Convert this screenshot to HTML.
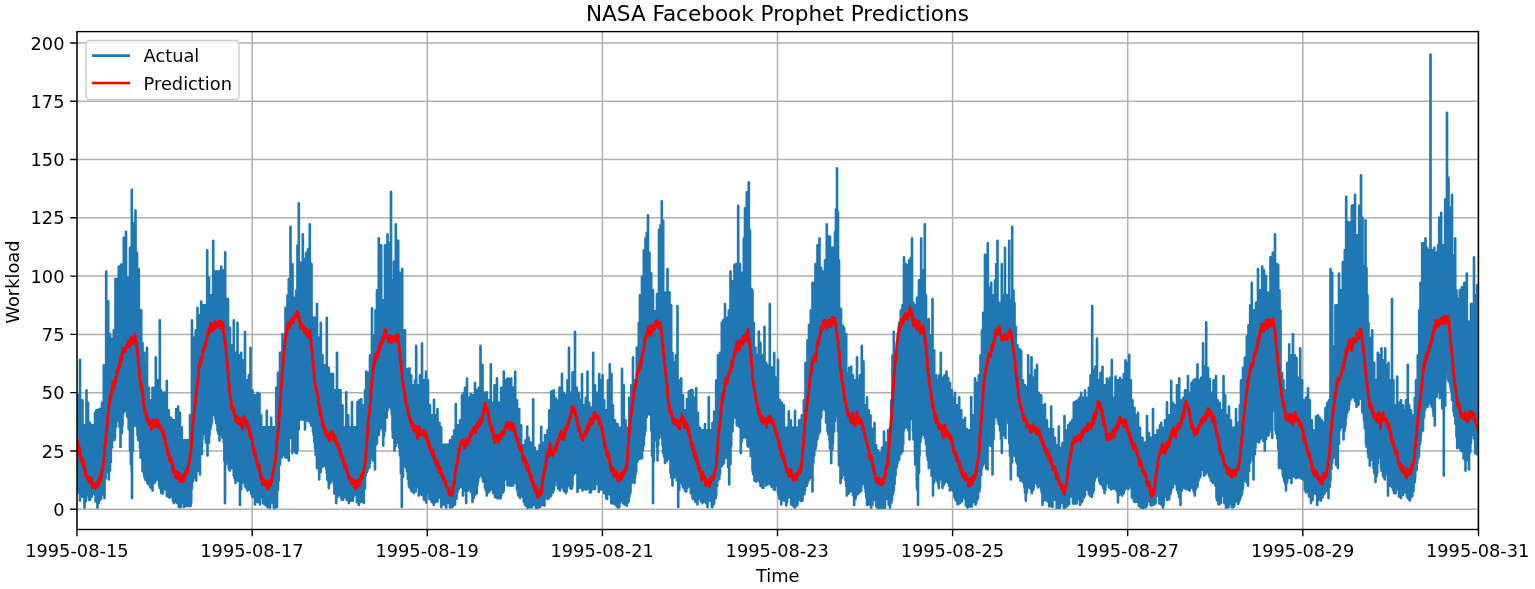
<!DOCTYPE html>
<html lang="en"><head><meta charset="utf-8"><title>NASA Facebook Prophet Predictions</title>
<style>html,body{margin:0;padding:0;background:#fff;}body{width:1535px;height:589px;overflow:hidden;}svg{display:block;}</style>
</head><body>
<svg width="1535" height="589" viewBox="0 0 1535 589" font-family="'DejaVu Sans', 'Liberation Sans', sans-serif">
<rect width="1535" height="589" fill="#fefefe"/>
<rect x="5" y="5" width="1530" height="579" fill="#ffffff"/>
<defs><clipPath id="ax"><rect x="77.0" y="31.6" width="1401.5" height="497.9"/></clipPath></defs>
<path d="M77.10 31.6V529.5M252.20 31.6V529.5M427.30 31.6V529.5M602.40 31.6V529.5M777.50 31.6V529.5M952.60 31.6V529.5M1127.70 31.6V529.5M1302.80 31.6V529.5M1477.90 31.6V529.5M77.0 509.20H1478.5M77.0 450.93H1478.5M77.0 392.65H1478.5M77.0 334.38H1478.5M77.0 276.10H1478.5M77.0 217.82H1478.5M77.0 159.55H1478.5M77.0 101.27H1478.5M77.0 43.00H1478.5" stroke="#b0b0b0" stroke-width="1.5" fill="none"/>
<g clip-path="url(#ax)" fill="none" stroke-linejoin="round" stroke-linecap="butt">
<path d="M77.6 395.4V488.1M78.0 395.4V488.1M78.7 395.4V492.5M79.3 395.4V492.5M80.0 359.9V500.6M80.9 400.4V487.8M81.8 400.4V484.3M82.5 400.4V496.6M83.4 425.4V496.6M84.2 425.4V496.6M84.5 425.4V507.6M85.2 425.4V501.4M85.8 425.4V501.4M86.5 390.4V493.3M87.2 402.9V495.0M88.0 402.9V495.0M88.8 422.9V498.3M89.4 422.9V499.9M90.0 422.9V499.9M90.5 425.4V498.1M91.2 425.4V496.5M91.8 425.4V496.5M92.5 425.4V492.4M93.3 425.4V493.3M94.2 425.4V493.3M95.0 412.9V494.9M95.6 412.9V501.4M96.2 410.4V501.4M96.9 410.4V501.4M97.5 410.4V507.6M98.2 410.4V503.1M98.8 410.4V503.1M99.5 409.1V500.6M100.3 409.1V498.7M101.2 409.1V498.7M102.0 402.9V494.1M102.9 402.9V494.3M103.8 365.4V494.3M104.5 380.4V498.1M105.0 380.4V478.6M105.6 380.4V478.6M106.2 271.6V468.1M106.9 301.6V472.0M107.6 301.6V472.0M108.2 301.6V472.0M108.8 334.1V479.4M109.4 334.1V470.4M110.0 334.1V470.4M110.8 339.1V462.0M111.4 339.1V447.4M112.0 339.1V447.4M113.0 339.1V439.5M113.8 330.4V439.9M114.4 330.4V439.9M115.0 330.4V438.1M115.5 279.1V426.7M116.2 279.1V426.7M117.0 279.1V420.6M117.9 279.1V415.5M118.8 266.6V420.4M119.6 266.6V426.9M120.5 266.6V446.9M121.2 264.6V433.0M121.9 264.6V433.0M122.5 264.6V425.6M123.1 264.6V412.6M123.8 237.9V412.6M124.5 237.9V405.6M125.2 237.9V407.4M126.0 231.7V407.4M126.2 277.9V410.6M127.1 277.9V415.9M128.0 277.9V417.7M128.7 277.9V429.1M129.3 277.9V429.1M130.0 247.9V450.2M130.9 247.9V464.2M131.8 189.7V472.1M132.0 222.9V498.1M132.9 222.9V451.0M133.8 222.9V425.6M134.6 222.9V422.0M135.5 210.4V423.7M136.2 252.9V426.3M137.0 252.9V426.3M137.5 269.1V435.6M138.1 269.1V440.0M138.8 269.1V440.0M139.4 310.4V440.0M140.0 310.4V448.1M140.6 310.4V457.7M141.2 310.4V457.7M141.9 342.9V453.2M142.5 342.9V471.1M143.4 352.9V471.9M144.2 352.9V476.5M145.0 362.9V478.1M145.5 362.9V479.9M146.2 362.9V479.9M147.0 347.9V479.9M147.5 387.9V483.1M148.1 387.9V484.0M148.8 387.9V484.0M149.4 400.4V484.0M150.0 400.4V485.6M150.5 400.4V487.4M151.2 400.4V487.4M151.8 400.4V487.4M152.5 387.9V490.6M153.3 387.9V483.1M154.2 387.9V483.1M155.0 387.9V482.2M155.8 357.4V474.1M156.6 380.4V480.0M157.5 380.4V475.6M158.4 380.4V479.1M159.2 380.4V485.6M159.8 320.4V488.2M160.5 390.4V488.2M161.2 390.4V493.1M162.1 392.9V493.5M162.9 392.9V493.5M163.8 392.9V488.6M164.6 392.9V489.0M165.4 392.9V489.0M166.2 392.9V489.9M166.8 380.9V496.0M167.4 410.4V496.0M168.1 410.4V496.0M168.8 410.4V496.9M169.6 417.9V497.7M170.4 417.9V493.7M171.2 417.9V495.3M172.1 420.4V496.6M172.9 420.4V500.7M173.8 420.4V503.1M174.6 420.4V501.5M175.4 420.4V501.5M176.2 409.1V500.6M176.9 409.1V502.8M177.6 409.1V502.8M178.2 406.6V502.8M178.8 412.9V506.9M179.4 412.9V507.1M180.0 412.9V507.1M180.6 427.4V507.1M181.2 427.4V503.0M181.8 427.4V502.5M182.4 440.4V502.5M183.1 440.4V502.5M183.8 440.4V506.9M184.4 440.4V506.0M185.0 440.4V506.0M185.6 440.4V506.0M186.2 440.4V505.6M186.9 440.4V505.6M187.5 440.4V505.6M188.1 440.4V505.6M188.8 440.4V505.6M189.4 440.4V506.0M190.0 415.4V506.0M190.6 415.4V506.0M191.2 415.4V502.4M192.0 320.4V488.5M193.0 337.9V481.1M193.8 337.9V477.5M194.4 337.9V477.5M195.0 337.9V473.1M195.8 330.4V475.7M196.2 330.4V480.6M196.9 330.4V470.9M197.5 307.9V470.9M198.0 315.4V465.6M198.6 315.4V468.7M199.2 315.4V468.7M200.0 315.4V474.4M200.6 315.4V454.0M201.2 301.6V454.0M201.9 305.4V454.0M202.5 305.4V438.9M203.0 305.4V434.0M203.7 305.4V434.0M204.3 305.4V434.0M205.0 305.4V431.4M205.8 305.4V442.6M206.5 305.4V442.6M207.2 250.4V442.6M207.5 277.9V455.6M208.2 277.9V442.6M209.0 277.9V442.6M209.5 295.4V435.6M210.5 295.4V429.1M211.2 295.4V425.6M211.9 295.4V422.4M212.6 295.4V415.0M213.2 240.9V415.0M213.8 271.6V413.2M214.4 271.6V412.4M215.0 271.6V412.4M215.5 271.6V419.4M216.2 271.6V423.3M216.8 271.6V423.3M217.5 271.6V430.6M218.4 271.6V434.1M219.2 271.6V434.1M219.5 271.6V440.6M220.4 271.6V434.1M221.2 266.6V434.1M221.8 270.4V430.6M222.4 270.4V437.6M223.0 270.4V437.6M223.8 270.4V442.7M224.4 270.4V461.1M225.0 270.4V503.1M225.2 252.4V464.3M226.0 299.1V464.3M226.8 299.1V455.6M227.4 299.1V460.0M228.0 299.1V460.0M228.8 327.9V468.1M229.4 327.9V470.3M230.0 327.9V470.3M230.6 345.4V463.5M231.2 345.4V467.6M232.0 345.4V468.0M232.9 345.4V468.0M233.8 320.4V475.6M234.6 352.9V478.2M235.5 352.9V483.1M236.2 352.9V476.6M236.8 352.9V476.6M237.5 322.9V469.9M238.2 355.4V481.0M238.8 355.4V481.0M239.5 355.4V481.0M240.0 355.4V504.9M240.6 355.4V489.1M241.2 352.9V489.1M242.0 360.4V480.6M243.0 360.4V482.4M243.7 360.4V482.4M244.3 360.4V482.4M245.0 332.1V485.6M245.7 380.4V487.4M246.3 380.4V487.4M247.0 380.4V487.4M247.5 380.4V490.6M248.1 380.4V486.5M248.8 375.4V486.5M249.5 375.4V489.7M250.5 347.9V488.1M251.2 390.4V494.0M252.0 390.4V493.1M252.5 390.4V497.0M253.3 395.4V497.0M254.2 395.4V497.0M255.0 395.4V504.4M255.8 395.4V501.9M256.7 395.4V501.9M257.5 392.9V500.6M258.2 394.1V501.9M258.8 394.1V501.9M259.5 394.1V501.9M260.0 415.4V504.4M260.6 415.4V497.1M261.2 415.4V497.1M261.9 427.4V497.1M262.5 427.4V496.6M263.1 427.4V503.5M263.8 427.4V503.5M264.4 427.4V503.5M265.0 427.4V504.4M265.9 427.4V505.2M266.8 410.9V505.2M267.5 427.4V506.9M268.1 427.4V507.1M268.8 427.4V507.1M269.4 427.4V507.1M270.0 427.4V507.6M270.6 427.4V502.3M271.2 417.9V502.3M271.9 427.4V502.3M272.5 427.4V502.3M273.1 427.4V502.3M273.8 427.4V507.6M274.4 427.4V507.6M275.0 427.4V507.6M275.6 427.4V507.1M276.2 387.9V507.1M277.0 387.9V506.9M278.0 372.9V489.8M278.8 372.9V480.6M279.4 372.9V464.4M280.0 352.9V464.4M280.5 352.9V455.6M281.2 352.9V457.4M281.8 352.9V457.4M282.5 334.1V455.2M283.4 342.9V455.2M284.2 342.9V455.2M284.5 342.9V455.2M285.5 307.9V457.4M286.1 307.9V457.4M286.8 307.9V455.6M287.5 295.4V457.4M288.1 295.4V457.4M288.8 279.1V460.6M289.6 279.1V437.9M290.5 226.9V437.9M290.8 264.1V425.6M291.6 264.1V435.2M292.5 264.1V453.1M293.4 297.9V448.3M294.2 297.9V448.3M295.0 297.9V451.6M295.6 297.9V446.7M296.2 290.4V453.2M296.9 290.4V453.2M297.5 245.4V450.6M298.1 245.4V429.5M298.8 203.4V429.5M299.2 262.9V418.1M300.0 262.9V418.5M300.8 262.9V418.5M301.2 262.9V419.4M302.0 262.9V419.4M302.8 234.2V419.4M303.0 259.1V419.4M303.8 259.1V415.7M304.5 259.1V415.7M305.0 259.1V429.4M305.6 259.1V416.6M306.2 252.9V416.6M307.0 252.9V420.6M308.0 249.2V420.6M308.8 249.2V420.6M309.8 224.4V422.4M310.5 264.1V422.4M311.2 264.1V425.6M311.5 264.1V423.6M312.2 317.9V423.6M313.0 317.9V431.8M313.7 317.9V435.3M314.3 317.9V441.6M315.0 317.9V448.1M315.7 317.9V455.1M316.3 317.9V455.1M317.0 304.1V468.1M317.9 337.9V468.2M318.8 337.9V468.2M319.2 337.9V479.4M320.0 337.9V468.2M320.8 322.9V472.0M321.2 355.4V468.1M321.9 355.4V466.5M322.5 355.4V466.5M323.1 365.4V466.5M323.8 365.4V465.6M324.5 365.4V462.3M325.4 365.4V462.3M326.2 365.4V468.8M326.8 317.9V473.1M327.4 367.9V480.0M328.1 367.9V480.0M328.8 367.9V488.1M329.6 374.1V483.2M330.4 374.1V483.2M331.2 374.1V480.6M332.1 374.1V478.3M333.0 374.1V478.3M333.8 390.4V483.1M334.4 390.4V493.4M335.0 390.4V493.4M335.6 390.4V493.4M336.2 390.4V503.1M337.0 352.9V496.6M337.9 390.4V496.6M338.8 390.4V493.1M339.6 390.4V494.9M340.5 390.4V494.9M341.2 405.4V498.1M341.9 405.4V499.7M342.5 405.4V499.7M343.1 427.4V499.7M343.8 427.4V497.4M344.2 427.4V494.4M344.9 427.4V494.4M345.6 427.4V494.4M346.2 392.4V498.1M346.9 415.4V499.9M347.6 415.4V499.9M348.2 415.4V499.9M348.8 427.4V503.1M349.4 427.4V500.7M350.0 427.4V500.7M350.6 427.4V500.7M351.2 427.4V499.4M352.0 402.1V500.7M352.9 427.4V500.7M353.8 427.4V496.0M354.2 427.4V494.4M354.9 427.4V494.4M355.6 427.4V494.4M356.2 427.4V493.5M356.9 427.4V502.1M357.5 402.1V502.1M358.1 402.1V502.1M358.8 402.1V504.9M359.5 400.4V502.1M360.4 400.4V502.1M361.2 399.1V500.6M362.1 405.4V501.5M363.0 405.4V501.5M363.8 405.4V503.1M364.4 405.4V488.5M365.0 390.4V488.5M365.8 390.4V475.5M366.2 371.6V472.3M366.9 372.9V472.3M367.5 372.9V470.5M368.1 372.9V462.4M368.8 372.9V467.5M369.4 372.9V467.5M370.0 355.4V463.1M370.7 355.4V458.2M371.3 355.4V458.2M372.0 308.4V458.2M372.5 335.4V455.6M373.1 335.4V460.4M373.8 335.4V452.6M374.4 335.4V452.6M375.0 335.4V469.4M375.5 310.4V444.5M376.2 310.4V444.5M377.0 290.4V443.1M377.9 290.4V435.0M378.8 238.4V435.0M379.5 245.4V430.6M380.4 245.4V427.4M381.2 245.4V421.4M382.1 300.4V428.4M383.0 300.4V428.4M383.2 300.4V445.6M384.1 300.4V435.9M385.0 245.4V430.6M385.8 245.4V417.6M386.7 245.4V417.6M387.5 234.2V410.6M388.4 242.9V407.4M389.2 242.9V401.4M390.0 242.9V399.7M391.0 191.9V408.4M391.8 280.4V414.4M392.5 280.4V430.6M392.8 280.4V437.6M393.4 280.4V437.6M394.0 261.6V437.6M394.5 261.6V450.6M395.1 261.6V445.7M395.8 224.4V445.7M396.2 240.9V443.1M397.1 240.9V438.0M398.0 240.9V438.0M398.2 240.9V442.4M399.1 272.9V447.5M400.0 272.9V455.6M400.9 272.9V473.5M401.8 272.9V506.9M402.2 269.1V476.8M403.0 330.4V476.8M403.8 330.4V460.6M404.4 330.4V465.9M405.0 330.4V458.1M405.6 369.1V458.1M406.2 369.1V467.8M407.0 369.1V471.3M407.9 369.1V479.1M408.8 369.1V485.6M409.5 368.4V487.4M410.4 375.4V487.4M411.2 375.4V490.6M412.1 385.4V491.5M413.0 385.4V491.5M413.8 385.4V493.1M414.4 385.4V491.5M415.0 380.4V491.5M415.6 380.4V491.5M416.2 345.9V484.5M417.1 385.4V486.3M418.0 385.4V486.3M418.8 385.4V495.6M419.4 385.4V494.0M420.0 375.4V494.0M420.6 375.4V494.0M421.2 375.4V493.1M422.0 343.4V494.9M422.9 380.4V494.9M423.8 380.4V498.1M424.0 380.4V499.7M424.7 380.4V499.7M425.3 380.4V499.7M426.0 371.6V499.7M426.2 380.4V502.6M427.1 380.4V492.2M428.0 380.4V492.2M428.8 405.4V490.6M429.4 405.4V499.0M430.0 405.4V499.0M430.6 415.4V499.0M431.2 415.4V500.6M432.0 415.4V502.1M432.9 415.4V502.1M433.8 415.4V504.9M434.0 399.9V502.1M434.9 415.4V502.1M435.8 415.4V502.1M436.2 415.4V500.6M436.9 415.4V501.5M437.5 409.1V501.5M438.1 422.9V494.5M438.8 422.9V496.1M439.5 422.9V497.4M440.4 427.4V497.4M441.2 427.4V506.9M442.1 444.9V504.4M442.9 444.9V504.4M443.8 444.9V503.1M444.6 444.9V504.7M445.4 444.9V504.7M446.2 444.9V507.6M446.9 444.9V502.8M447.5 444.9V502.1M448.3 444.9V502.8M449.2 444.9V502.8M450.0 440.4V507.6M450.8 440.4V507.1M451.7 440.4V507.1M452.5 436.6V506.9M453.4 436.6V505.2M454.2 430.4V505.2M455.0 430.4V504.4M455.8 404.1V498.7M456.6 425.4V498.7M457.5 425.4V492.3M458.2 425.4V489.0M458.8 425.4V489.0M459.5 425.4V487.3M460.0 420.4V485.7M460.6 420.4V485.7M461.2 420.4V483.1M462.0 395.4V487.5M463.0 395.4V495.6M463.8 392.9V490.7M464.4 392.9V490.7M465.0 387.9V483.4M465.6 387.9V488.6M466.2 387.9V503.1M467.0 378.6V490.3M468.0 397.9V490.6M468.8 397.9V488.2M469.4 397.9V488.2M470.0 397.9V486.9M470.8 394.1V492.1M471.6 395.4V488.3M472.5 395.4V501.9M473.2 395.4V494.0M473.8 395.4V497.8M474.5 395.4V495.6M475.0 382.9V494.0M475.9 390.4V494.0M476.8 390.4V493.1M477.4 390.4V485.0M478.1 390.4V481.8M478.8 387.9V477.5M479.6 387.9V474.2M480.5 345.9V474.2M480.8 364.9V475.6M481.6 364.9V476.5M482.5 364.9V478.1M483.2 392.9V481.6M483.8 392.9V481.6M484.5 392.9V481.6M485.0 392.9V488.1M485.9 392.9V490.7M486.8 392.4V495.6M487.4 400.4V492.4M488.1 400.4V492.4M488.8 400.4V490.6M489.4 400.4V491.5M490.1 400.4V487.7M490.8 364.4V489.4M491.6 402.9V487.7M492.5 402.9V486.9M493.2 402.9V492.8M493.8 402.9V492.8M494.5 385.4V492.8M495.0 385.4V496.9M495.7 385.4V497.3M496.3 385.4V497.3M497.0 378.4V498.1M497.9 402.9V495.0M498.8 402.9V495.0M499.2 402.9V498.3M499.9 402.9V493.4M500.6 402.9V498.2M501.2 387.9V495.6M502.1 387.9V492.4M502.9 387.9V492.4M503.8 371.6V490.6M504.6 380.4V479.4M505.5 380.4V479.4M506.2 380.4V477.6M506.9 380.4V477.3M507.5 378.6V485.3M508.1 379.1V485.3M508.8 379.1V485.1M509.5 379.1V485.3M510.4 379.1V485.3M511.2 378.6V485.6M511.9 387.9V485.3M512.6 387.9V485.3M513.2 387.9V485.3M513.8 387.9V481.7M514.5 387.9V482.3M515.2 371.6V482.3M516.2 400.4V483.4M517.0 400.4V489.5M518.0 409.1V494.4M518.6 409.1V495.7M519.2 409.1V495.7M520.0 425.4V498.1M520.6 425.4V494.7M521.2 425.4V494.7M521.9 445.4V494.7M522.5 445.4V496.3M523.1 445.4V497.6M523.8 445.4V501.9M524.4 445.4V501.9M525.0 445.4V504.4M525.5 440.4V505.5M526.4 440.4V505.5M527.2 426.6V505.5M527.5 437.9V507.6M528.1 437.9V507.1M528.8 437.9V507.1M529.4 442.9V507.1M530.0 442.9V506.9M530.6 442.9V507.2M531.2 442.9V507.2M531.9 442.9V507.2M532.5 442.9V504.7M533.2 399.4V504.6M534.1 447.9V504.6M535.0 447.9V504.5M535.8 451.6V507.6M536.7 451.6V507.6M537.5 451.6V507.6M538.2 451.6V507.1M538.8 451.6V507.1M539.5 445.4V507.1M540.0 445.4V506.9M540.6 445.4V505.2M541.2 426.9V505.2M541.9 442.9V505.2M542.5 442.9V504.4M543.0 442.9V504.8M543.8 442.9V504.8M544.5 442.9V505.6M545.0 435.4V498.6M545.6 435.4V498.6M546.2 435.4V496.9M546.9 435.4V495.2M547.5 430.4V495.2M548.1 430.4V499.0M548.8 430.4V498.1M549.2 410.4V496.5M549.9 410.4V496.5M550.6 410.4V496.5M551.2 391.6V495.6M552.1 391.6V492.4M552.9 391.6V492.4M553.8 390.4V490.6M554.6 397.9V485.7M555.5 397.9V480.1M556.2 400.4V477.5M556.9 400.4V479.2M557.5 400.4V484.9M558.0 400.4V488.1M558.8 400.4V489.0M559.5 387.9V489.0M560.0 387.9V490.6M560.7 387.9V487.4M561.3 387.9V487.4M562.0 373.9V485.6M562.9 392.9V487.4M563.8 392.9V490.6M564.4 395.4V491.5M565.1 395.4V491.5M565.8 395.4V493.1M566.6 395.4V491.5M567.5 380.4V484.1M568.2 380.4V485.4M569.0 347.9V485.4M570.0 392.9V487.9M570.5 392.9V482.2M571.2 392.9V488.7M571.8 392.9V488.7M572.5 372.4V485.6M573.3 372.4V474.2M574.2 372.4V474.2M575.0 331.9V468.1M575.9 387.9V472.6M576.8 387.9V472.6M577.5 392.9V491.9M578.1 392.9V484.0M578.8 392.9V487.8M579.4 400.4V487.8M580.0 400.4V485.6M580.5 400.4V487.4M581.2 400.4V487.4M582.0 374.1V487.4M582.5 405.4V490.6M583.1 405.4V489.0M583.8 405.4V489.0M584.4 405.4V489.0M585.0 405.4V488.1M585.8 397.9V489.4M586.6 397.9V489.4M587.5 371.6V485.0M588.4 402.9V486.3M589.2 402.9V488.7M589.9 407.9V492.4M590.6 407.9V492.4M591.2 407.9V490.6M591.9 407.9V489.0M592.6 407.9V489.0M593.2 352.9V489.0M593.8 385.4V488.1M594.4 385.4V489.0M595.0 385.4V489.0M595.6 392.9V481.9M596.2 392.9V483.5M597.0 392.9V484.0M597.9 392.9V484.0M598.8 392.9V491.9M599.2 374.1V489.4M599.9 380.4V489.4M600.6 380.4V489.4M601.2 380.4V488.1M601.9 380.4V489.0M602.5 375.4V489.0M603.1 400.4V489.0M603.8 400.4V490.6M604.2 400.4V493.2M604.9 410.4V493.2M605.6 410.4V493.2M606.2 410.4V498.1M607.1 410.4V499.0M608.0 380.4V491.9M608.8 380.4V493.6M609.8 364.4V494.4M610.5 374.1V494.4M611.2 374.1V503.1M611.5 374.1V503.1M612.2 405.4V503.1M613.0 405.4V503.1M613.8 420.4V503.1M614.4 420.4V504.0M615.0 420.4V504.0M615.6 424.1V504.0M616.2 424.1V505.6M616.9 424.1V506.3M617.5 424.1V506.3M618.0 427.9V507.6M618.7 427.9V507.1M619.3 427.9V507.1M620.0 427.9V502.7M620.7 427.9V500.3M621.3 427.9V500.3M622.0 368.9V500.3M622.5 385.4V499.0M623.1 385.4V503.5M623.8 385.4V503.5M624.4 420.4V503.5M625.0 420.4V504.4M625.5 420.4V504.8M626.1 427.9V504.8M626.8 427.9V505.6M627.5 427.9V502.4M628.1 427.9V502.4M628.8 427.9V500.6M629.2 397.9V497.4M629.9 397.9V494.2M630.5 397.9V492.5M631.2 385.4V482.7M631.9 385.4V482.7M632.5 385.4V480.6M633.0 357.4V481.5M633.8 380.4V481.5M634.5 380.4V483.1M635.0 380.4V478.2M635.6 380.4V473.9M636.2 380.4V471.3M636.8 347.9V461.6M637.4 347.9V461.6M638.0 347.9V456.3M638.8 322.9V459.0M639.4 322.9V459.0M640.0 295.4V458.1M640.7 295.4V458.1M641.3 295.4V458.1M642.0 276.6V458.1M642.9 276.6V450.0M643.8 250.4V445.6M644.6 250.4V435.9M645.5 238.4V430.6M646.1 238.4V417.2M646.8 232.9V417.2M647.5 232.9V412.9M648.0 215.4V404.7M648.6 252.9V404.7M649.2 252.9V400.4M649.5 252.9V414.4M650.4 273.4V414.4M651.2 273.4V430.6M652.1 290.4V456.0M653.0 290.4V503.1M653.8 311.6V460.9M654.5 311.6V438.1M655.0 311.6V439.0M655.6 311.6V439.0M656.2 311.6V440.6M657.0 294.1V447.6M657.5 294.1V460.6M658.2 294.1V446.0M659.0 229.9V438.2M659.5 229.9V430.3M660.5 225.4V431.2M661.2 225.4V432.8M661.8 201.4V437.2M662.5 220.9V445.0M663.2 220.9V453.1M664.2 292.9V456.6M665.0 292.9V463.1M665.7 292.9V461.5M666.3 292.9V461.5M667.0 292.9V460.6M667.5 269.1V454.8M668.1 292.4V454.8M668.8 292.4V454.0M669.5 292.4V459.2M670.5 305.4V473.1M671.2 305.4V477.5M671.9 352.9V477.5M672.5 352.9V485.6M673.4 362.9V477.5M674.2 362.9V477.5M674.5 362.9V473.1M675.1 362.9V467.9M675.8 355.4V467.9M676.2 355.4V469.5M676.9 355.4V480.4M677.5 306.1V480.4M678.2 380.4V506.9M679.2 380.4V489.8M680.0 380.4V480.6M680.6 380.4V482.4M681.2 378.4V482.4M681.9 395.4V482.4M682.5 395.4V485.6M683.0 395.4V487.4M683.7 410.4V487.4M684.3 410.4V487.4M685.0 410.4V490.6M685.7 410.4V491.5M686.3 410.4V491.5M687.0 399.1V486.1M687.5 399.1V487.7M688.1 399.1V486.1M688.8 391.6V486.1M689.4 391.6V486.1M690.0 391.6V485.2M690.8 390.4V493.2M691.6 390.4V493.2M692.5 390.4V498.1M693.2 397.9V499.0M693.8 397.9V499.0M694.5 397.9V499.0M695.0 397.9V500.6M695.6 397.9V501.9M696.2 388.4V501.9M696.9 412.9V501.9M697.5 412.9V504.4M698.0 412.9V498.5M698.7 427.9V498.5M699.3 427.9V498.5M700.0 427.9V497.2M700.8 430.4V501.5M701.7 430.4V501.5M702.5 430.4V503.1M703.3 430.4V501.5M704.2 430.4V501.5M705.0 424.1V500.6M705.9 430.4V502.8M706.8 430.4V502.8M707.5 430.4V506.9M708.1 430.4V500.2M708.8 397.1V500.2M709.4 430.4V500.2M710.0 430.4V500.7M710.5 430.4V500.2M711.2 430.4V500.2M711.8 430.4V507.1M712.5 422.9V506.9M713.4 422.9V504.4M714.2 411.6V503.1M714.9 411.6V498.2M715.6 411.6V498.2M716.2 380.4V495.6M717.1 380.4V485.9M718.0 355.4V480.6M718.7 355.4V479.0M719.3 355.4V479.0M720.0 352.9V474.2M720.9 352.9V466.1M721.8 322.9V466.1M722.0 322.9V461.7M722.6 322.9V464.0M723.2 320.4V464.0M723.8 320.4V463.1M724.4 320.4V458.2M725.0 304.1V458.2M725.8 317.9V455.6M726.8 317.9V456.5M727.5 317.9V458.1M728.1 317.9V467.3M728.8 310.4V467.3M729.2 310.4V484.4M729.9 310.4V464.0M730.5 271.4V464.0M731.2 281.6V446.1M731.9 281.6V431.5M732.5 281.6V431.5M733.0 281.6V423.6M733.8 281.6V410.6M734.5 264.9V417.6M735.0 264.9V410.6M735.6 264.9V415.9M736.2 264.1V415.9M736.8 264.1V425.6M737.5 264.1V417.5M738.2 205.9V417.5M738.8 264.1V413.1M739.4 264.1V427.1M740.0 264.1V427.1M740.8 272.9V453.1M741.8 272.9V441.7M742.5 272.9V435.6M743.1 272.9V437.4M743.8 238.4V437.4M744.4 238.4V432.3M745.0 208.4V435.6M745.9 208.4V437.3M746.8 192.2V437.3M747.5 192.2V445.6M748.1 192.2V446.5M748.8 182.4V446.5M749.4 230.4V446.5M750.0 230.4V448.1M750.8 289.1V456.0M751.5 289.1V456.0M752.5 290.4V470.6M753.1 322.9V474.1M753.8 322.9V474.1M754.5 347.9V480.6M755.5 347.9V481.5M756.2 355.4V481.5M757.0 355.4V479.2M757.9 355.4V480.1M758.8 331.6V480.1M759.5 342.9V481.7M760.5 342.9V486.0M761.2 355.4V486.0M762.0 355.4V486.9M762.5 355.4V487.7M763.4 355.4V487.7M764.2 355.4V481.8M764.5 326.9V479.4M765.4 362.9V479.4M766.2 362.9V485.6M767.1 365.4V484.0M768.0 365.4V484.0M768.8 365.4V483.1M769.8 304.1V484.0M770.5 367.9V484.0M771.2 367.9V485.6M771.8 367.9V486.9M772.4 367.9V486.9M773.1 367.9V486.9M773.8 367.9V489.4M774.2 352.9V489.8M774.9 377.9V489.8M775.6 377.9V482.7M776.2 377.9V483.5M777.1 377.9V485.2M778.0 359.9V492.4M778.8 400.4V495.6M779.4 400.4V498.7M780.0 400.4V498.7M780.6 402.9V498.7M781.2 402.9V504.4M782.0 402.9V500.3M782.9 405.4V500.3M783.8 405.4V498.1M784.6 427.9V500.7M785.4 427.9V500.7M786.2 427.9V505.6M787.1 427.9V502.4M787.9 427.9V497.6M788.8 411.4V495.8M789.4 420.4V497.2M790.1 420.4V497.2M790.8 420.4V497.2M791.2 427.9V504.4M791.9 427.9V504.8M792.5 427.9V504.8M793.0 427.9V505.6M793.7 427.9V506.3M794.3 427.9V506.3M795.0 410.9V507.6M795.7 427.9V505.5M796.3 427.9V505.5M797.0 427.9V505.5M797.5 427.9V504.4M798.4 427.9V499.7M799.2 420.4V499.7M800.0 420.4V498.8M800.9 420.4V501.0M801.8 415.4V501.0M802.5 415.4V500.6M803.1 415.4V494.1M803.8 400.4V494.1M804.4 400.4V494.1M805.0 400.4V490.6M805.5 362.9V485.7M806.2 362.9V485.7M806.8 362.9V485.7M807.5 340.4V483.1M808.2 340.4V479.9M809.0 324.9V479.9M810.0 324.9V478.1M810.8 310.4V477.1M811.6 310.4V477.1M812.5 282.9V491.4M813.4 282.9V462.5M814.2 282.9V455.6M814.9 282.9V449.1M815.5 264.1V449.1M816.2 264.1V445.6M816.9 264.1V439.1M817.5 245.4V439.1M818.2 245.4V435.6M818.9 245.4V432.4M819.5 238.4V432.4M820.0 267.9V430.6M820.6 267.9V417.6M821.2 267.9V417.6M822.0 271.6V410.6M823.0 271.6V409.0M823.8 271.6V400.7M824.4 271.6V404.2M825.0 260.4V404.2M825.5 260.4V410.7M826.1 260.4V422.5M826.8 224.4V422.5M827.5 236.7V430.6M828.2 236.7V434.1M828.9 236.7V434.1M829.5 236.7V440.6M830.0 236.7V448.5M830.6 247.9V448.5M831.2 247.9V463.1M831.8 247.9V450.1M832.4 247.9V450.1M833.0 247.9V443.1M833.2 247.9V431.7M834.1 247.9V431.7M835.0 231.7V421.3M836.0 209.2V416.5M837.0 168.4V413.8M838.0 211.7V431.2M838.8 260.4V455.6M839.0 260.4V465.2M839.8 309.1V465.2M840.5 309.1V483.1M841.0 309.1V478.2M841.8 325.4V478.2M842.5 325.4V475.6M843.4 327.9V471.4M844.2 327.9V471.4M844.5 334.1V474.7M845.4 334.1V479.9M846.2 334.1V485.9M846.8 372.9V495.6M847.5 372.9V494.0M848.1 372.9V494.0M848.8 372.9V493.1M849.2 367.9V491.5M849.9 367.9V491.5M850.5 367.9V490.6M851.2 366.6V488.7M851.9 375.4V488.7M852.5 375.4V491.9M853.0 375.4V495.2M853.6 380.4V495.2M854.2 380.4V504.9M855.0 380.4V498.8M855.6 380.4V498.8M856.2 380.4V495.6M857.0 357.4V494.0M857.9 380.4V494.0M858.8 380.4V493.1M859.4 380.4V491.5M860.0 375.4V491.5M860.6 375.4V491.5M861.2 375.4V490.6M861.8 345.9V484.1M862.5 361.6V484.1M863.2 361.6V475.3M863.5 361.6V479.7M864.2 405.4V479.7M865.0 405.4V487.8M865.7 405.4V491.9M866.3 405.4V497.2M867.0 397.4V504.9M867.9 410.4V503.7M868.8 410.4V503.1M869.6 415.4V504.7M870.5 415.4V504.7M871.2 429.1V507.6M871.9 429.1V504.7M872.5 429.1V504.7M873.1 429.1V499.6M873.8 429.1V498.0M874.5 422.9V498.9M875.5 445.4V500.5M876.2 445.4V506.3M876.9 450.4V506.3M877.5 450.4V507.6M878.0 450.4V507.7M878.7 452.9V507.7M879.3 452.9V507.7M880.0 452.9V507.8M880.7 452.9V507.7M881.3 452.9V507.7M882.0 447.9V507.7M882.5 447.9V507.6M883.2 447.9V507.6M884.0 431.6V507.6M885.0 442.9V507.6M885.6 442.9V499.0M886.2 442.9V499.0M886.9 442.9V499.0M887.5 442.9V497.4M888.0 430.4V499.0M888.7 430.4V504.7M889.3 430.4V504.7M890.0 427.9V507.6M890.6 427.9V503.1M891.2 400.4V503.1M892.0 400.4V500.6M892.5 355.4V494.1M893.1 355.4V494.1M893.8 331.9V490.6M894.6 350.4V484.1M895.5 350.4V475.4M896.2 350.4V467.3M896.8 350.4V467.3M897.5 340.4V462.9M898.4 340.4V460.0M899.2 322.9V460.0M899.5 322.9V455.6M900.1 322.9V454.0M900.8 310.4V454.0M901.2 310.4V453.1M901.9 310.4V451.5M902.5 305.4V451.5M903.2 305.4V443.6M904.0 257.4V430.6M905.0 264.1V423.6M905.8 264.1V427.4M906.6 265.4V427.4M907.5 265.4V425.6M908.4 265.4V430.4M909.2 260.4V430.4M909.5 260.4V439.4M910.1 260.4V418.9M910.8 257.9V418.9M911.2 257.9V411.5M912.0 238.4V415.8M913.0 302.9V430.6M913.5 302.9V439.4M914.2 305.4V439.4M915.0 305.4V455.6M915.2 305.4V464.4M916.0 305.4V464.4M916.8 305.4V480.6M917.0 297.9V489.1M918.0 297.9V504.9M919.0 280.4V472.8M919.5 280.4V455.6M920.4 280.4V441.9M921.2 238.4V437.5M922.1 270.4V431.0M923.0 270.4V433.1M923.9 270.4V434.9M924.8 224.4V434.9M925.0 295.4V438.1M926.0 295.4V444.2M927.0 320.4V455.6M927.9 320.4V460.0M928.8 319.1V468.1M929.6 335.4V465.4M930.5 335.4V465.4M930.8 335.4V467.1M931.6 335.4V475.8M932.5 299.1V475.8M933.0 350.4V495.6M933.6 350.4V482.6M934.2 350.4V482.6M935.0 375.4V475.6M935.6 375.4V477.4M936.2 375.4V477.4M937.0 380.4V480.6M938.0 380.4V483.2M938.8 380.4V488.1M939.2 375.4V483.2M939.9 375.4V478.8M940.5 375.4V476.2M940.8 352.9V478.8M941.6 377.9V478.8M942.5 377.9V488.1M943.2 377.9V484.9M943.8 377.9V484.9M944.5 375.4V483.1M945.4 375.4V481.5M946.2 375.4V480.6M946.5 371.6V481.5M947.4 377.9V481.5M948.2 377.9V483.1M949.1 382.9V485.7M950.0 382.9V490.6M950.9 390.4V486.5M951.8 390.4V486.5M952.5 397.9V489.8M953.1 397.9V490.7M953.8 397.9V490.7M954.4 397.9V496.5M955.0 392.9V498.1M955.7 405.4V500.3M956.3 405.4V500.3M957.0 405.4V500.3M957.5 405.4V504.4M958.4 405.4V503.5M959.2 397.4V503.5M960.0 410.4V503.1M960.6 410.4V501.5M961.2 410.4V501.5M961.9 420.4V501.5M962.5 420.4V495.4M963.0 420.4V496.7M963.7 420.4V496.7M964.3 420.4V496.7M965.0 417.9V499.1M965.9 429.1V505.5M966.8 429.1V505.5M967.5 430.4V507.6M968.1 430.4V506.3M968.8 430.4V506.3M969.4 430.4V506.3M970.0 430.4V505.6M970.6 430.4V506.3M971.2 397.1V506.3M971.9 415.4V506.3M972.5 415.4V502.0M973.0 415.4V502.0M973.8 415.4V502.0M974.5 415.4V502.0M975.0 378.4V499.1M975.6 382.9V504.7M976.2 382.9V503.1M976.8 382.9V499.9M977.4 382.9V499.9M978.0 382.9V498.1M978.8 375.4V491.6M979.4 375.4V491.6M980.0 375.4V488.1M980.5 355.4V475.1M981.2 355.4V475.1M982.0 330.4V468.1M982.6 330.4V464.9M983.2 312.9V464.9M983.8 312.9V457.4M984.4 312.9V459.2M985.0 254.9V459.2M985.5 255.4V462.4M986.2 255.4V468.5M986.9 255.4V468.5M987.5 255.4V469.4M987.8 243.4V445.8M988.5 287.9V445.8M989.2 287.9V433.1M990.0 287.9V431.5M990.8 287.9V430.6M991.2 282.9V445.9M991.9 295.4V445.9M992.5 295.4V474.4M993.0 295.4V439.4M993.6 295.4V439.4M994.2 295.4V424.1M995.0 280.4V414.4M995.6 280.4V414.4M996.2 264.1V415.6M996.9 264.1V417.4M997.5 240.9V417.4M998.0 302.9V420.6M998.6 302.9V424.1M999.2 302.9V424.1M1000.0 302.9V430.6M1000.9 302.9V438.5M1001.8 264.1V453.1M1002.5 295.4V435.2M1003.2 295.4V435.2M1003.8 295.4V425.6M1004.4 295.4V430.0M1005.0 247.9V425.7M1005.5 295.4V438.1M1006.1 295.4V417.6M1006.8 295.4V417.6M1007.5 295.4V408.8M1008.4 295.4V423.6M1009.2 240.9V443.1M1010.0 300.4V455.8M1010.8 300.4V479.4M1011.5 300.4V462.3M1012.2 226.9V462.3M1012.5 290.4V453.1M1013.5 290.4V454.0M1014.5 302.9V455.6M1015.1 326.6V452.8M1015.8 326.6V452.8M1016.2 345.4V460.9M1016.9 345.4V463.5M1017.5 345.4V463.5M1018.0 349.1V475.6M1018.8 349.1V476.5M1019.5 349.1V476.5M1020.0 350.9V478.1M1020.6 350.9V480.7M1021.2 350.9V480.7M1022.0 380.4V480.4M1023.0 380.4V481.3M1023.8 385.4V482.9M1024.4 385.4V487.3M1025.0 385.4V492.5M1025.8 387.9V500.6M1026.8 387.9V492.5M1027.5 387.9V488.1M1028.2 355.4V485.6M1028.9 375.4V485.6M1029.5 375.4V487.2M1030.0 375.4V488.1M1030.8 375.4V488.1M1031.5 357.4V491.5M1031.8 377.9V493.1M1032.5 377.9V489.9M1033.2 377.9V489.9M1033.8 377.9V488.1M1034.4 377.9V483.2M1035.0 370.4V483.2M1035.8 370.4V480.6M1036.4 370.4V482.4M1037.0 364.9V482.4M1037.5 392.9V485.6M1038.1 392.9V487.4M1038.8 392.9V479.9M1039.5 395.4V483.1M1040.4 395.4V485.7M1041.2 395.4V490.6M1041.9 405.4V493.0M1042.5 405.4V504.9M1043.0 405.4V500.5M1043.8 405.4V500.5M1044.5 405.4V498.1M1045.0 404.1V499.9M1045.6 420.4V499.9M1046.2 420.4V496.8M1047.0 420.4V498.4M1047.5 429.1V501.3M1048.4 429.1V500.0M1049.2 429.1V506.3M1050.0 429.1V505.6M1050.6 429.1V506.0M1051.2 406.6V506.0M1051.9 429.1V506.0M1052.5 429.1V506.9M1053.0 429.1V499.3M1053.7 437.9V499.3M1054.3 437.9V499.3M1055.0 437.9V499.8M1055.8 445.4V499.8M1056.7 445.4V507.7M1057.5 445.4V507.8M1058.1 445.4V507.7M1058.8 426.6V507.7M1059.4 447.9V507.7M1060.0 447.9V507.6M1060.8 447.9V502.6M1061.6 447.9V502.6M1062.5 442.9V502.6M1063.2 442.9V502.6M1063.8 442.9V507.6M1064.5 416.1V507.6M1065.0 430.4V507.6M1065.6 430.4V506.3M1066.2 430.4V506.3M1066.9 430.4V506.3M1067.5 430.4V505.6M1068.2 425.4V504.0M1069.1 425.4V504.0M1070.0 422.9V495.9M1070.7 422.9V496.4M1071.3 422.9V496.4M1072.0 420.4V496.4M1072.5 420.4V497.2M1073.1 420.4V503.5M1073.8 402.9V503.5M1074.4 402.9V503.5M1075.0 402.9V503.1M1075.8 401.6V503.5M1076.6 401.6V503.5M1077.5 400.4V498.8M1078.2 400.4V498.9M1078.8 400.4V498.9M1079.5 397.9V498.9M1080.0 397.9V504.9M1080.6 397.9V502.1M1081.2 392.9V502.1M1081.9 397.9V502.1M1082.5 397.9V500.6M1083.2 397.9V497.4M1084.1 397.9V497.4M1085.0 390.4V495.6M1085.7 397.9V489.4M1086.3 397.9V489.4M1087.0 397.9V489.4M1087.5 397.9V488.5M1088.1 397.9V489.4M1088.8 387.9V494.0M1089.4 387.9V494.0M1090.0 387.9V495.6M1090.5 375.4V496.0M1091.2 375.4V496.0M1092.0 375.4V496.9M1092.2 306.1V492.8M1093.0 370.4V492.8M1093.8 370.4V490.6M1094.6 370.4V480.9M1095.5 366.6V475.6M1096.2 366.6V477.4M1097.0 338.6V471.6M1097.5 380.4V474.8M1098.1 380.4V475.7M1098.8 380.4V475.7M1099.4 380.4V481.5M1100.0 380.4V483.1M1100.5 372.9V484.0M1101.2 372.9V484.0M1101.8 372.9V484.0M1102.5 366.9V485.6M1103.2 385.4V488.2M1103.8 385.4V488.2M1104.5 385.4V493.1M1105.4 385.4V489.9M1106.2 385.4V483.4M1106.8 378.6V482.6M1107.4 380.4V482.6M1108.1 380.4V482.6M1108.8 380.4V486.9M1109.4 380.4V487.7M1110.0 377.9V487.7M1110.6 377.9V487.7M1111.2 377.9V489.4M1111.8 359.9V488.5M1112.4 397.9V488.5M1113.1 397.9V488.5M1113.8 397.9V488.1M1114.6 397.9V489.0M1115.5 376.6V489.0M1116.2 380.4V487.3M1116.9 380.4V491.4M1117.5 380.4V491.4M1118.0 380.4V502.4M1118.7 380.4V491.4M1119.3 380.4V494.7M1120.0 377.9V490.6M1120.9 380.4V492.4M1121.8 380.4V492.4M1122.0 380.4V495.6M1122.9 380.4V494.0M1123.8 374.1V493.1M1124.6 374.1V489.9M1125.5 360.4V488.1M1126.2 362.9V488.1M1126.8 362.9V488.1M1127.5 362.9V488.1M1128.4 362.9V489.0M1129.2 354.9V481.1M1129.5 380.4V482.7M1130.1 380.4V484.5M1130.8 380.4V484.5M1131.2 400.4V487.7M1131.9 400.4V497.4M1132.5 400.4V497.4M1133.1 407.9V497.4M1133.8 407.9V500.6M1134.5 407.9V501.9M1135.4 415.4V501.9M1136.2 415.4V501.2M1137.1 415.4V501.6M1138.0 412.9V501.6M1138.8 427.9V505.6M1139.4 427.9V506.3M1140.0 427.9V506.3M1140.6 437.9V506.3M1141.2 437.9V507.6M1141.9 437.9V507.6M1142.5 437.9V507.6M1143.1 442.9V507.6M1143.8 442.9V507.6M1144.4 442.9V507.1M1145.0 442.9V507.1M1145.6 442.9V507.1M1146.2 442.9V506.9M1147.0 416.1V505.2M1147.9 432.9V501.6M1148.8 432.9V500.7M1149.6 437.9V501.1M1150.5 437.9V504.8M1151.2 437.9V505.6M1152.1 437.9V504.8M1153.0 409.1V504.8M1153.8 435.4V504.4M1154.4 435.4V503.5M1155.0 435.4V503.5M1155.6 435.4V503.5M1156.2 435.4V496.0M1156.9 435.4V496.0M1157.5 430.4V496.0M1158.1 430.4V496.0M1158.8 430.4V496.0M1159.4 430.4V503.5M1160.0 425.4V503.5M1160.6 425.4V503.5M1161.2 422.9V504.4M1162.1 427.9V505.5M1163.0 427.9V507.6M1163.7 427.9V504.7M1164.3 427.9V497.1M1165.0 420.4V495.5M1165.7 420.4V492.3M1166.3 420.4V492.3M1167.0 402.4V499.9M1167.5 415.4V498.1M1168.1 415.4V498.5M1168.8 415.4V498.5M1169.2 415.4V499.4M1169.9 415.4V493.7M1170.6 415.4V493.7M1171.2 380.9V490.6M1172.1 402.9V487.4M1173.0 402.9V487.4M1173.8 405.4V482.2M1174.4 405.4V483.0M1175.0 405.4V483.0M1175.6 405.4V483.0M1176.2 405.4V484.7M1177.0 385.4V489.9M1177.6 385.4V489.9M1178.2 385.4V493.1M1179.2 378.4V497.2M1179.9 400.4V497.2M1180.5 400.4V504.9M1181.2 400.4V490.5M1181.9 400.4V490.5M1182.5 400.4V485.5M1183.2 397.9V487.4M1184.1 397.9V487.4M1185.0 390.4V485.6M1185.8 390.4V489.1M1186.5 390.4V482.9M1187.2 390.4V482.9M1188.0 376.1V489.4M1188.9 392.9V486.2M1189.8 392.9V490.6M1190.6 392.9V487.4M1191.5 382.9V485.6M1192.2 382.9V487.4M1192.8 382.9V487.4M1193.5 380.4V490.6M1194.1 380.4V492.4M1194.8 380.4V495.6M1195.5 379.1V489.1M1196.1 379.1V489.1M1196.8 379.1V485.6M1197.5 364.4V486.5M1198.5 380.4V480.8M1199.2 380.4V477.6M1199.9 380.4V477.6M1200.5 380.4V475.8M1201.0 377.9V462.8M1201.6 377.9V470.1M1202.2 377.9V463.1M1203.0 343.4V467.5M1204.0 366.6V475.6M1204.8 366.6V471.6M1205.5 366.6V474.1M1206.2 322.4V468.4M1207.2 367.9V465.3M1208.0 367.9V472.4M1209.0 379.1V475.6M1209.8 379.1V477.4M1210.4 392.9V477.4M1211.0 392.9V480.6M1211.8 392.9V481.5M1212.4 392.9V481.5M1213.0 392.9V483.1M1213.5 380.4V478.1M1214.1 380.4V478.1M1214.8 380.4V483.0M1215.4 380.4V485.6M1216.0 376.1V485.6M1216.5 400.4V498.1M1217.1 400.4V500.3M1217.8 400.4V500.3M1218.5 402.9V504.4M1219.1 402.9V503.5M1219.8 402.9V503.5M1220.4 410.4V503.5M1221.0 410.4V503.1M1221.5 410.4V495.8M1222.2 410.4V495.8M1222.8 410.4V495.8M1223.5 376.1V495.0M1224.4 395.4V503.1M1225.2 395.4V503.1M1226.0 415.4V507.6M1226.6 415.4V507.1M1227.2 415.4V507.1M1227.9 415.4V507.1M1228.5 415.4V506.9M1229.0 406.6V503.3M1229.7 420.4V503.3M1230.3 420.4V503.3M1231.0 420.4V503.8M1231.7 427.9V507.1M1232.3 427.9V507.1M1233.0 427.9V507.1M1233.5 427.9V506.9M1234.3 427.9V506.0M1235.2 427.9V501.5M1236.0 409.1V501.0M1236.7 422.9V499.4M1237.3 422.9V499.4M1238.0 422.9V504.0M1238.5 422.9V503.1M1239.1 422.9V499.9M1239.8 405.4V499.9M1240.5 405.4V498.1M1241.0 380.4V494.9M1241.6 380.4V494.9M1242.2 380.4V493.1M1243.0 367.9V488.2M1244.0 367.9V481.2M1244.8 357.9V477.9M1245.4 357.9V477.9M1246.0 357.9V476.2M1246.8 336.6V482.4M1247.4 336.6V482.4M1248.0 336.6V485.6M1248.5 325.4V471.0M1249.1 325.4V471.0M1249.8 325.4V463.1M1250.2 305.4V455.0M1251.0 305.4V455.0M1251.8 282.9V450.6M1252.6 310.4V460.7M1253.5 310.4V479.4M1254.0 310.4V454.3M1254.8 310.4V454.3M1255.5 310.4V448.1M1256.0 302.9V441.6M1256.6 302.9V441.6M1257.2 302.9V438.1M1258.0 269.1V440.7M1259.0 290.4V442.5M1259.8 290.4V439.3M1260.4 290.4V439.3M1261.0 290.4V437.5M1261.6 290.4V434.3M1262.2 266.6V437.4M1262.8 270.4V435.6M1263.4 270.4V440.9M1264.0 270.4V440.9M1264.8 276.1V450.6M1265.4 276.1V439.2M1266.0 276.1V439.2M1266.5 292.9V433.1M1267.1 292.9V434.0M1267.8 292.9V434.0M1268.5 292.9V435.6M1269.2 292.9V432.4M1269.8 292.9V428.4M1270.5 257.4V426.7M1271.4 257.4V429.3M1272.2 257.4V438.1M1272.8 252.9V406.5M1273.4 252.9V410.5M1274.0 252.9V395.6M1275.0 234.2V407.9M1275.5 264.1V430.6M1276.1 264.1V433.2M1276.8 264.1V433.2M1277.2 264.9V438.1M1278.2 264.9V448.6M1279.0 290.4V468.1M1279.5 290.4V465.4M1280.5 310.4V465.4M1281.0 372.9V467.1M1281.6 372.9V468.8M1282.2 372.9V468.8M1282.8 380.4V475.6M1283.5 380.4V477.4M1284.2 390.4V480.6M1285.2 390.4V484.1M1286.0 390.4V490.6M1286.6 390.4V482.5M1287.2 362.9V482.5M1288.0 362.9V478.1M1288.6 362.9V476.5M1289.2 344.4V476.5M1289.8 355.4V475.6M1290.4 355.4V478.2M1291.0 355.4V472.7M1291.5 355.4V483.1M1292.2 355.4V472.7M1293.0 334.1V472.7M1293.5 355.4V470.1M1294.1 355.4V476.5M1294.8 355.4V476.5M1295.4 357.9V476.5M1296.0 357.9V478.1M1296.5 357.9V477.3M1297.2 377.9V477.3M1297.8 377.9V477.3M1298.5 377.9V476.9M1299.4 377.9V477.3M1300.2 348.4V477.3M1301.0 380.4V478.1M1302.0 380.4V479.0M1303.0 400.4V475.1M1304.0 400.4V480.3M1304.8 400.4V490.1M1305.4 400.4V486.8M1306.0 397.9V492.4M1306.5 397.9V490.6M1307.2 397.9V491.5M1308.0 388.4V491.5M1308.5 400.4V493.1M1309.1 400.4V496.6M1309.8 400.4V496.6M1310.4 420.4V496.6M1311.0 420.4V503.1M1311.8 420.4V499.9M1312.6 430.4V499.9M1313.5 430.4V493.4M1314.2 430.4V491.8M1314.8 430.4V491.8M1315.5 430.4V490.9M1316.0 416.6V494.1M1316.6 416.6V494.1M1317.2 416.6V504.9M1318.0 415.4V500.5M1319.0 417.9V498.1M1319.8 417.9V499.0M1320.4 420.4V499.0M1321.0 420.4V500.6M1321.8 420.4V497.4M1322.4 422.9V497.4M1323.0 422.9V495.6M1323.5 422.9V494.0M1324.1 422.9V494.0M1324.8 422.9V493.1M1325.5 407.9V488.2M1326.1 407.9V488.2M1326.8 407.9V490.7M1327.2 402.9V491.1M1327.9 402.9V491.1M1328.5 402.9V498.1M1329.0 400.4V486.7M1329.8 400.4V486.7M1330.5 269.1V480.6M1331.4 272.9V469.2M1332.2 272.9V463.1M1333.1 346.6V458.2M1334.0 346.6V455.6M1334.8 346.6V456.7M1335.5 305.4V456.7M1336.0 305.4V464.8M1336.9 305.4V464.8M1337.8 305.4V468.1M1338.4 305.4V443.7M1339.0 273.6V443.7M1339.8 290.4V430.6M1340.4 290.4V427.4M1341.0 290.4V427.4M1341.5 290.4V418.9M1342.1 290.4V423.7M1342.8 262.1V423.7M1343.5 262.1V439.4M1344.1 262.1V430.4M1344.8 250.4V430.4M1345.5 250.4V425.6M1346.2 196.9V417.5M1347.2 221.7V413.1M1348.0 221.7V409.9M1348.6 222.9V409.9M1349.2 222.9V404.7M1349.8 222.9V399.8M1350.4 222.9V399.8M1351.0 222.9V397.2M1351.8 205.9V393.9M1352.4 205.9V397.4M1353.0 205.9V395.6M1353.5 205.4V396.5M1354.1 205.4V396.5M1354.8 205.4V398.1M1355.0 194.7V401.2M1355.8 235.4V401.2M1356.5 235.4V406.9M1357.2 235.4V405.2M1357.8 235.4V405.2M1358.5 235.4V404.4M1359.2 205.9V398.7M1359.9 205.9V398.7M1360.5 205.9V395.6M1361.0 175.4V397.1M1361.6 217.9V397.1M1362.2 217.9V411.7M1362.5 217.9V412.6M1363.2 266.6V412.6M1364.0 266.6V420.6M1364.8 266.6V428.5M1365.5 220.4V428.5M1366.0 267.9V443.1M1366.5 267.9V446.6M1367.5 295.4V446.6M1368.0 322.9V453.1M1368.5 322.9V457.5M1369.1 337.9V453.0M1369.8 337.9V465.6M1370.5 337.9V454.6M1371.5 337.9V451.1M1372.2 330.4V460.0M1372.9 362.9V460.0M1373.5 362.9V468.1M1374.2 362.9V472.9M1374.9 380.4V472.9M1375.5 380.4V481.9M1376.0 380.4V476.2M1376.6 380.4V476.2M1377.2 380.4V473.1M1377.8 352.9V463.4M1378.4 355.4V458.1M1379.0 355.4V452.9M1379.8 355.4V456.4M1380.4 355.4V456.4M1381.0 355.4V468.1M1381.5 348.4V470.7M1382.2 360.4V470.7M1383.0 360.4V475.6M1383.5 360.4V476.9M1384.1 360.4V476.9M1384.8 360.4V479.4M1385.2 348.4V475.3M1385.9 365.4V467.4M1386.5 365.4V465.2M1386.8 365.4V473.1M1387.4 365.4V473.1M1388.0 365.4V495.6M1388.5 362.9V478.0M1389.1 380.4V485.9M1389.8 380.4V480.6M1390.2 380.4V482.4M1390.9 380.4V482.4M1391.5 380.4V485.6M1392.0 299.1V487.4M1392.8 380.4V487.4M1393.5 380.4V490.6M1394.2 405.4V493.2M1394.8 405.4V493.2M1395.5 405.4V493.2M1396.0 405.4V490.3M1396.6 405.4V488.6M1397.2 376.6V488.6M1397.9 402.9V488.6M1398.5 402.9V487.8M1399.0 402.9V496.5M1399.7 402.9V496.5M1400.3 402.9V496.5M1401.0 400.4V498.1M1401.7 405.4V494.9M1402.3 405.4V494.9M1403.0 405.4V494.9M1403.5 410.4V493.1M1404.1 410.4V491.0M1404.8 410.4V491.0M1405.4 410.4V491.0M1406.0 400.4V492.6M1406.9 400.4V496.5M1407.8 364.9V496.5M1408.0 405.4V498.1M1408.6 405.4V499.0M1409.2 405.4V499.0M1409.8 410.4V500.6M1410.4 410.4V497.4M1411.0 410.4V497.4M1411.5 415.4V495.6M1412.2 415.4V496.0M1413.0 415.4V490.5M1413.5 415.4V491.3M1414.1 415.4V482.4M1414.8 397.9V482.4M1415.2 397.9V477.6M1416.0 380.4V470.1M1416.6 380.4V470.1M1417.2 380.4V463.1M1417.8 355.4V458.2M1418.4 355.4V458.2M1419.0 355.4V455.6M1419.2 310.4V444.2M1419.9 310.4V444.2M1420.5 282.9V441.2M1421.0 282.9V435.1M1421.6 282.9V430.2M1422.2 243.4V430.2M1423.0 243.4V430.6M1424.0 243.4V417.6M1424.8 243.4V410.6M1425.5 238.4V407.4M1426.1 247.9V407.4M1426.8 247.9V405.6M1427.2 247.9V406.5M1427.9 250.4V406.5M1428.5 250.4V403.1M1428.8 250.4V400.7M1429.6 250.4V400.7M1430.5 54.6V400.7M1431.0 250.4V404.4M1431.6 250.4V406.5M1432.2 250.4V406.5M1433.0 250.4V410.6M1433.6 250.4V415.9M1434.2 247.9V411.3M1434.8 252.9V425.6M1435.4 252.9V396.7M1436.0 252.9V396.7M1436.6 252.9V396.7M1437.2 252.9V388.1M1438.0 245.4V391.6M1438.6 245.4V391.6M1439.2 217.9V391.6M1439.8 217.9V398.1M1440.5 217.9V386.7M1441.2 212.9V386.7M1441.5 245.4V380.6M1442.2 245.4V408.2M1443.0 245.4V408.2M1443.8 245.4V475.6M1444.5 245.4V400.1M1445.2 199.2V405.7M1446.0 199.2V368.1M1447.0 112.9V372.0M1448.0 177.9V379.4M1448.5 177.9V380.7M1449.1 207.9V380.7M1449.8 207.9V383.1M1450.2 207.9V385.7M1451.0 207.9V390.6M1452.0 194.7V400.2M1452.8 255.4V400.2M1453.5 255.4V411.5M1454.4 255.4V415.9M1455.2 238.4V415.9M1455.5 290.4V424.0M1456.5 290.4V436.7M1457.2 299.1V448.1M1458.0 299.1V447.3M1459.0 299.1V446.9M1459.8 290.4V448.2M1460.4 290.4V448.2M1461.0 290.4V450.6M1461.8 287.4V451.0M1462.4 287.4V451.0M1463.0 287.4V451.9M1463.6 287.4V458.4M1464.2 282.9V458.4M1464.9 282.9V458.4M1465.5 282.9V470.6M1466.1 282.9V456.2M1466.8 273.6V456.2M1467.2 321.6V451.0M1468.1 321.6V460.4M1469.0 321.6V469.4M1469.7 321.6V452.3M1470.3 321.6V452.3M1471.0 304.1V443.1M1471.8 304.1V435.0M1472.7 304.1V435.0M1473.5 304.1V430.6M1474.0 257.4V438.5M1474.6 295.4V438.5M1475.2 295.4V453.1M1475.5 295.4V453.5M1476.4 295.4V453.5M1477.2 285.4V454.4M1477.9 285.4V454.4" stroke="#1f77b4" stroke-width="2.65" stroke-linecap="round"/>
<path d="M77.0 438.8L77.5 443.1L78.0 441.6L78.5 447.5L79.0 446.5L79.5 455.2L80.0 451.2L80.5 458.9L81.0 456.0L81.5 462.0L82.0 460.4L82.5 464.9L83.0 460.0L83.5 466.6L84.0 462.1L84.5 470.3L85.0 467.7L85.5 476.1L86.0 472.1L86.5 476.5L87.0 476.0L87.5 478.5L88.0 477.1L88.5 480.2L89.0 477.3L89.5 482.7L90.0 477.7L90.5 482.3L91.0 477.7L91.5 483.2L92.0 482.5L92.5 487.4L93.0 482.6L93.5 487.8L94.0 484.0L94.5 488.2L95.0 484.8L95.5 488.1L96.0 484.4L96.5 485.8L97.0 483.4L97.5 486.0L98.0 481.3L98.5 484.6L99.0 477.9L99.5 483.1L100.0 478.8L100.5 480.8L101.0 474.3L101.5 477.0L102.0 468.7L102.5 471.1L103.0 466.2L103.5 464.1L104.0 457.3L104.5 455.6L105.0 445.7L105.5 443.3L106.0 435.7L106.5 431.8L107.0 425.6L107.5 424.1L108.0 413.2L108.5 412.4L109.0 403.7L109.5 403.6L110.0 397.1L110.5 398.7L111.0 394.1L111.5 395.3L112.0 387.8L112.5 389.9L113.0 381.9L113.5 385.4L114.0 383.4L114.5 388.1L115.0 380.0L115.5 382.6L116.0 376.8L116.5 376.4L117.0 370.3L117.5 373.6L118.0 369.1L118.5 370.2L119.0 364.9L119.5 367.6L120.0 360.9L120.5 362.7L121.0 356.4L121.5 360.7L122.0 353.5L122.5 355.2L123.0 348.5L123.5 352.1L124.0 349.5L124.5 350.2L125.0 348.5L125.5 351.8L126.0 347.7L126.5 348.0L127.0 344.1L127.5 345.9L128.0 341.3L128.5 344.8L129.0 341.8L129.5 347.2L130.0 342.2L130.5 344.9L131.0 337.8L131.5 343.6L132.0 339.3L132.5 342.2L133.0 338.8L133.5 343.1L134.0 335.7L134.5 338.2L135.0 334.4L135.5 340.1L136.0 341.6L136.5 346.5L137.0 347.6L137.5 356.2L138.0 355.8L138.5 365.1L139.0 368.4L139.5 377.3L140.0 380.1L140.5 384.9L141.0 381.7L141.5 390.2L142.0 386.0L142.5 394.2L143.0 393.7L143.5 405.8L144.0 403.9L144.5 410.7L145.0 409.3L145.5 414.3L146.0 411.4L146.5 418.3L147.0 415.4L147.5 421.0L148.0 420.0L148.5 424.0L149.0 420.1L149.5 423.4L150.0 421.4L150.5 425.6L151.0 422.8L151.5 429.1L152.0 423.0L152.5 425.1L153.0 420.2L153.5 424.9L154.0 423.0L154.5 427.0L155.0 426.4L155.5 426.1L156.0 419.6L156.5 422.9L157.0 419.9L157.5 425.9L158.0 420.6L158.5 427.3L159.0 425.3L159.5 426.7L160.0 425.4L160.5 428.0L161.0 427.6L161.5 430.9L162.0 430.2L162.5 434.2L163.0 429.6L163.5 436.5L164.0 433.3L164.5 438.6L165.0 437.9L165.5 444.2L166.0 443.5L166.5 446.8L167.0 446.5L167.5 453.0L168.0 451.1L168.5 455.7L169.0 453.4L169.5 460.5L170.0 457.1L170.5 459.9L171.0 458.5L171.5 462.7L172.0 461.5L172.5 469.1L173.0 464.6L173.5 472.5L174.0 469.9L174.5 471.5L175.0 470.1L175.5 476.8L176.0 472.7L176.5 477.7L177.0 475.4L177.5 476.8L178.0 471.7L178.5 478.6L179.0 473.4L179.5 481.7L180.0 478.5L180.5 480.7L181.0 479.2L181.5 481.5L182.0 476.1L182.5 481.7L183.0 475.6L183.5 480.9L184.0 475.2L184.5 478.8L185.0 473.4L185.5 474.4L186.0 470.2L186.5 473.5L187.0 468.1L187.5 472.8L188.0 467.2L188.5 466.6L189.0 461.8L189.5 462.1L190.0 454.6L190.5 455.8L191.0 448.9L191.5 445.0L192.0 433.6L192.5 430.7L193.0 422.3L193.5 420.4L194.0 413.6L194.5 411.2L195.0 403.7L195.5 403.9L196.0 392.7L196.5 394.3L197.0 385.7L197.5 385.7L198.0 377.5L198.5 375.5L199.0 364.9L199.5 366.5L200.0 362.7L200.5 363.2L201.0 357.6L201.5 361.0L202.0 356.8L202.5 358.4L203.0 349.8L203.5 351.4L204.0 347.7L204.5 347.6L205.0 343.4L205.5 346.4L206.0 341.1L206.5 342.5L207.0 333.9L207.5 336.0L208.0 331.2L208.5 334.4L209.0 328.8L209.5 332.5L210.0 327.0L210.5 327.1L211.0 323.2L211.5 327.8L212.0 324.1L212.5 331.1L213.0 328.3L213.5 329.6L214.0 325.8L214.5 328.6L215.0 321.7L215.5 326.0L216.0 324.3L216.5 327.3L217.0 322.6L217.5 326.1L218.0 323.9L218.5 323.9L219.0 321.8L219.5 327.2L220.0 321.1L220.5 327.8L221.0 321.2L221.5 327.8L222.0 322.5L222.5 324.9L223.0 323.2L223.5 332.3L224.0 332.8L224.5 339.8L225.0 339.3L225.5 345.8L226.0 347.6L226.5 355.2L227.0 360.0L227.5 367.1L228.0 370.5L228.5 380.9L229.0 381.9L229.5 391.6L230.0 393.3L230.5 399.5L231.0 398.9L231.5 408.4L232.0 406.3L232.5 409.0L233.0 407.6L233.5 412.4L234.0 409.4L234.5 415.8L235.0 415.1L235.5 421.0L236.0 417.8L236.5 420.0L237.0 415.8L237.5 422.9L238.0 421.2L238.5 422.2L239.0 421.1L239.5 424.0L240.0 418.3L240.5 423.4L241.0 419.1L241.5 426.1L242.0 425.9L242.5 429.0L243.0 420.8L243.5 421.6L244.0 416.6L244.5 421.2L245.0 419.9L245.5 422.6L246.0 420.4L246.5 427.1L247.0 421.4L247.5 427.5L248.0 424.5L248.5 427.7L249.0 427.5L249.5 435.2L250.0 429.8L250.5 436.2L251.0 434.8L251.5 439.2L252.0 437.9L252.5 446.1L253.0 445.0L253.5 451.5L254.0 447.6L254.5 455.1L255.0 451.1L255.5 458.0L256.0 456.6L256.5 461.5L257.0 460.5L257.5 466.0L258.0 463.8L258.5 466.5L259.0 464.7L259.5 471.2L260.0 472.6L260.5 476.0L261.0 475.5L261.5 480.4L262.0 476.9L262.5 484.3L263.0 478.5L263.5 484.8L264.0 484.0L264.5 484.7L265.0 481.2L265.5 484.6L266.0 480.7L266.5 484.6L267.0 483.7L267.5 489.4L268.0 484.3L268.5 488.9L269.0 481.7L269.5 486.0L270.0 481.6L270.5 484.8L271.0 480.0L271.5 482.3L272.0 476.5L272.5 478.3L273.0 472.1L273.5 471.0L274.0 466.6L274.5 466.4L275.0 460.1L275.5 461.3L276.0 452.8L276.5 450.6L277.0 439.7L277.5 439.3L278.0 430.8L278.5 429.1L279.0 417.1L279.5 416.1L280.0 404.1L280.5 398.7L281.0 386.6L281.5 386.4L282.0 374.4L282.5 372.1L283.0 363.9L283.5 358.6L284.0 350.4L284.5 349.1L285.0 338.1L285.5 338.9L286.0 332.6L286.5 335.3L287.0 327.7L287.5 327.9L288.0 322.8L288.5 328.9L289.0 324.9L289.5 327.7L290.0 322.3L290.5 324.3L291.0 320.3L291.5 321.2L292.0 319.0L292.5 321.0L293.0 317.9L293.5 322.5L294.0 318.2L294.5 318.0L295.0 315.3L295.5 317.6L296.0 313.2L296.5 314.6L297.0 311.3L297.5 316.8L298.0 312.7L298.5 316.3L299.0 317.0L299.5 321.8L300.0 321.0L300.5 328.4L301.0 326.0L301.5 327.3L302.0 323.7L302.5 328.1L303.0 326.3L303.5 330.3L304.0 327.0L304.5 332.8L305.0 329.6L305.5 332.9L306.0 329.7L306.5 335.1L307.0 329.3L307.5 335.8L308.0 334.1L308.5 337.7L309.0 333.5L309.5 334.2L310.0 330.7L310.5 340.2L311.0 340.3L311.5 350.1L312.0 350.1L312.5 359.5L313.0 361.1L313.5 367.4L314.0 371.0L314.5 382.0L315.0 382.5L315.5 388.5L316.0 387.0L316.5 392.1L317.0 390.1L317.5 394.9L318.0 397.3L318.5 404.8L319.0 403.3L319.5 410.0L320.0 409.1L320.5 415.9L321.0 411.7L321.5 418.9L322.0 420.0L322.5 426.4L323.0 420.9L323.5 427.3L324.0 425.8L324.5 430.9L325.0 427.9L325.5 434.2L326.0 429.8L326.5 435.9L327.0 432.1L327.5 436.7L328.0 434.1L328.5 438.7L329.0 434.9L329.5 440.5L330.0 435.3L330.5 435.3L331.0 431.9L331.5 434.9L332.0 431.3L332.5 434.1L333.0 434.5L333.5 440.0L334.0 434.9L334.5 439.1L335.0 436.2L335.5 441.3L336.0 439.0L336.5 444.2L337.0 442.5L337.5 446.8L338.0 443.1L338.5 448.4L339.0 445.9L339.5 450.7L340.0 449.1L340.5 455.3L341.0 452.8L341.5 458.2L342.0 455.4L342.5 458.3L343.0 457.1L343.5 463.5L344.0 462.6L344.5 467.9L345.0 462.7L345.5 467.7L346.0 465.3L346.5 469.4L347.0 469.5L347.5 473.6L348.0 473.8L348.5 477.9L349.0 476.1L349.5 479.6L350.0 477.4L350.5 481.0L351.0 479.4L351.5 483.9L352.0 478.8L352.5 483.6L353.0 480.9L353.5 483.2L354.0 480.5L354.5 487.1L355.0 484.4L355.5 489.3L356.0 482.8L356.5 488.4L357.0 481.2L357.5 484.3L358.0 479.7L358.5 485.3L359.0 479.6L359.5 485.6L360.0 479.9L360.5 482.1L361.0 474.7L361.5 477.7L362.0 474.9L362.5 478.0L363.0 472.7L363.5 474.2L364.0 467.0L364.5 468.9L365.0 463.5L365.5 460.7L366.0 449.9L366.5 448.2L367.0 439.5L367.5 435.1L368.0 424.5L368.5 419.4L369.0 414.8L369.5 413.0L370.0 405.0L370.5 404.1L371.0 390.8L371.5 387.5L372.0 378.0L372.5 376.5L373.0 369.1L373.5 368.6L374.0 361.4L374.5 364.4L375.0 357.2L375.5 360.2L376.0 354.0L376.5 357.4L377.0 352.4L377.5 357.1L378.0 351.1L378.5 353.3L379.0 347.2L379.5 350.6L380.0 343.9L380.5 346.9L381.0 341.4L381.5 344.3L382.0 339.6L382.5 341.3L383.0 336.8L383.5 339.6L384.0 334.9L384.5 337.5L385.0 329.9L385.5 333.6L386.0 329.6L386.5 334.7L387.0 335.1L387.5 338.0L388.0 338.2L388.5 341.8L389.0 337.6L389.5 341.0L390.0 335.7L390.5 339.6L391.0 338.5L391.5 342.5L392.0 339.7L392.5 339.5L393.0 337.1L393.5 338.4L394.0 336.4L394.5 339.4L395.0 337.0L395.5 341.5L396.0 337.6L396.5 339.6L397.0 334.1L397.5 335.9L398.0 334.7L398.5 342.6L399.0 345.2L399.5 351.4L400.0 352.8L400.5 362.7L401.0 361.1L401.5 370.9L402.0 373.9L402.5 381.0L403.0 381.5L403.5 388.7L404.0 387.2L404.5 393.5L405.0 392.4L405.5 401.4L406.0 399.1L406.5 406.4L407.0 404.8L407.5 409.9L408.0 408.9L408.5 414.6L409.0 414.3L409.5 418.0L410.0 416.8L410.5 421.3L411.0 419.8L411.5 425.8L412.0 422.3L412.5 425.2L413.0 423.8L413.5 429.8L414.0 426.1L414.5 431.3L415.0 426.9L415.5 428.7L416.0 426.5L416.5 430.3L417.0 429.9L417.5 438.9L418.0 431.5L418.5 432.2L419.0 426.7L419.5 432.2L420.0 428.8L420.5 434.8L421.0 431.4L421.5 434.5L422.0 432.5L422.5 433.7L423.0 432.4L423.5 434.2L424.0 430.5L424.5 436.3L425.0 430.3L425.5 437.1L426.0 434.0L426.5 438.3L427.0 436.3L427.5 442.8L428.0 439.6L428.5 444.1L429.0 441.5L429.5 448.5L430.0 445.1L430.5 451.1L431.0 449.2L431.5 452.3L432.0 451.5L432.5 456.0L433.0 450.2L433.5 457.0L434.0 453.9L434.5 460.3L435.0 457.9L435.5 462.3L436.0 459.3L436.5 465.6L437.0 460.8L437.5 466.5L438.0 461.7L438.5 468.9L439.0 465.7L439.5 472.6L440.0 467.3L440.5 472.4L441.0 468.3L441.5 474.6L442.0 473.3L442.5 477.8L443.0 476.4L443.5 480.4L444.0 477.0L444.5 481.4L445.0 481.2L445.5 483.7L446.0 481.5L446.5 488.0L447.0 487.0L447.5 488.5L448.0 488.4L448.5 492.0L449.0 488.2L449.5 494.9L450.0 491.0L450.5 495.1L451.0 492.3L451.5 495.6L452.0 491.0L452.5 494.4L453.0 485.9L453.5 487.6L454.0 481.0L454.5 483.6L455.0 472.3L455.5 472.2L456.0 467.5L456.5 466.5L457.0 463.3L457.5 464.2L458.0 455.2L458.5 457.4L459.0 448.7L459.5 451.4L460.0 445.4L460.5 445.1L461.0 441.8L461.5 444.1L462.0 440.4L462.5 442.6L463.0 439.8L463.5 443.3L464.0 443.9L464.5 448.2L465.0 443.5L465.5 446.1L466.0 441.4L466.5 444.8L467.0 438.6L467.5 443.7L468.0 438.2L468.5 441.0L469.0 438.4L469.5 440.7L470.0 435.0L470.5 437.2L471.0 431.6L471.5 435.2L472.0 430.7L472.5 433.7L473.0 428.9L473.5 431.4L474.0 427.1L474.5 428.6L475.0 428.5L475.5 432.8L476.0 425.9L476.5 428.6L477.0 425.1L477.5 427.8L478.0 422.1L478.5 425.6L479.0 422.7L479.5 425.4L480.0 420.0L480.5 423.4L481.0 418.1L481.5 421.5L482.0 417.4L482.5 419.3L483.0 413.0L483.5 413.3L484.0 407.4L484.5 407.5L485.0 402.7L485.5 408.6L486.0 403.8L486.5 409.8L487.0 407.9L487.5 412.3L488.0 410.2L488.5 416.8L489.0 415.8L489.5 423.0L490.0 422.9L490.5 426.5L491.0 425.7L491.5 431.0L492.0 426.7L492.5 432.1L493.0 430.0L493.5 437.3L494.0 437.0L494.5 442.8L495.0 436.8L495.5 441.4L496.0 435.5L496.5 439.8L497.0 438.2L497.5 441.3L498.0 437.7L498.5 442.1L499.0 435.4L499.5 437.9L500.0 435.0L500.5 439.2L501.0 433.6L501.5 435.4L502.0 431.2L502.5 435.8L503.0 431.2L503.5 433.6L504.0 431.3L504.5 434.1L505.0 426.7L505.5 428.3L506.0 425.2L506.5 425.6L507.0 422.2L507.5 425.3L508.0 423.8L508.5 426.9L509.0 425.0L509.5 429.2L510.0 422.5L510.5 426.1L511.0 423.0L511.5 427.9L512.0 425.7L512.5 430.3L513.0 423.6L513.5 430.1L514.0 426.6L514.5 431.0L515.0 430.0L515.5 435.3L516.0 435.7L516.5 439.4L517.0 438.2L517.5 441.3L518.0 438.4L518.5 446.4L519.0 443.9L519.5 449.5L520.0 445.8L520.5 448.3L521.0 446.3L521.5 451.9L522.0 449.8L522.5 458.6L523.0 455.4L523.5 460.6L524.0 456.2L524.5 461.2L525.0 459.4L525.5 464.8L526.0 461.0L526.5 469.0L527.0 464.4L527.5 470.5L528.0 464.6L528.5 470.9L529.0 468.6L529.5 474.2L530.0 473.2L530.5 477.8L531.0 476.6L531.5 481.6L532.0 476.5L532.5 482.9L533.0 481.3L533.5 486.3L534.0 484.8L534.5 490.1L535.0 486.7L535.5 491.3L536.0 486.1L536.5 491.8L537.0 490.3L537.5 497.5L538.0 493.8L538.5 497.4L539.0 491.6L539.5 495.6L540.0 491.5L540.5 493.3L541.0 488.6L541.5 493.1L542.0 484.4L542.5 483.3L543.0 476.9L543.5 478.0L544.0 470.6L544.5 473.0L545.0 466.0L545.5 469.3L546.0 461.3L546.5 462.0L547.0 454.5L547.5 457.5L548.0 452.9L548.5 455.9L549.0 449.6L549.5 450.5L550.0 443.4L550.5 449.8L551.0 450.1L551.5 454.2L552.0 454.1L552.5 455.5L553.0 452.5L553.5 454.3L554.0 448.3L554.5 451.1L555.0 447.9L555.5 449.6L556.0 445.3L556.5 450.7L557.0 443.7L557.5 445.2L558.0 439.1L558.5 442.3L559.0 438.7L559.5 439.1L560.0 434.4L560.5 438.7L561.0 431.3L561.5 435.3L562.0 433.0L562.5 438.3L563.0 436.0L563.5 439.6L564.0 433.7L564.5 436.8L565.0 428.5L565.5 431.8L566.0 427.7L566.5 430.2L567.0 426.2L567.5 428.4L568.0 422.2L568.5 425.3L569.0 419.3L569.5 420.4L570.0 416.6L570.5 417.9L571.0 413.4L571.5 412.0L572.0 406.3L572.5 408.9L573.0 406.9L573.5 410.0L574.0 407.5L574.5 412.9L575.0 410.0L575.5 415.8L576.0 413.2L576.5 420.5L577.0 416.9L577.5 423.7L578.0 422.8L578.5 431.1L579.0 426.2L579.5 431.4L580.0 429.7L580.5 437.0L581.0 436.5L581.5 438.7L582.0 436.0L582.5 440.6L583.0 435.5L583.5 436.2L584.0 434.5L584.5 436.1L585.0 431.9L585.5 435.3L586.0 431.7L586.5 434.3L587.0 426.8L587.5 430.0L588.0 424.9L588.5 429.6L589.0 422.9L589.5 426.2L590.0 419.2L590.5 424.6L591.0 418.2L591.5 422.6L592.0 419.3L592.5 423.7L593.0 418.0L593.5 419.9L594.0 412.4L594.5 415.8L595.0 412.4L595.5 415.8L596.0 415.2L596.5 418.3L597.0 416.0L597.5 418.1L598.0 415.9L598.5 419.7L599.0 418.1L599.5 424.4L600.0 420.8L600.5 425.4L601.0 423.2L601.5 429.5L602.0 427.5L602.5 434.8L603.0 432.5L603.5 440.0L604.0 439.0L604.5 446.0L605.0 443.7L605.5 449.0L606.0 447.1L606.5 452.5L607.0 451.5L607.5 457.4L608.0 451.7L608.5 457.6L609.0 454.1L609.5 462.0L610.0 460.8L610.5 468.6L611.0 466.9L611.5 471.2L612.0 467.2L612.5 471.5L613.0 468.1L613.5 474.6L614.0 472.4L614.5 476.3L615.0 470.6L615.5 473.2L616.0 470.8L616.5 475.1L617.0 472.8L617.5 479.8L618.0 476.7L618.5 481.6L619.0 476.8L619.5 479.7L620.0 475.7L620.5 478.6L621.0 473.2L621.5 479.3L622.0 473.3L622.5 476.3L623.0 472.2L623.5 473.7L624.0 469.7L624.5 474.4L625.0 469.1L625.5 471.0L626.0 465.9L626.5 469.6L627.0 462.0L627.5 456.5L628.0 447.6L628.5 442.0L629.0 434.7L629.5 433.4L630.0 421.5L630.5 420.9L631.0 411.2L631.5 414.0L632.0 405.0L632.5 406.5L633.0 398.0L633.5 398.7L634.0 389.3L634.5 390.8L635.0 384.9L635.5 386.5L636.0 380.3L636.5 382.2L637.0 375.3L637.5 372.9L638.0 370.0L638.5 372.1L639.0 365.2L639.5 370.6L640.0 365.6L640.5 368.4L641.0 360.1L641.5 362.4L642.0 356.2L642.5 356.2L643.0 351.3L643.5 352.3L644.0 346.6L644.5 347.6L645.0 338.3L645.5 339.4L646.0 334.7L646.5 335.5L647.0 332.8L647.5 335.4L648.0 328.5L648.5 332.2L649.0 326.5L649.5 329.8L650.0 329.8L650.5 335.5L651.0 328.5L651.5 333.6L652.0 325.7L652.5 327.0L653.0 325.1L653.5 329.0L654.0 326.8L654.5 329.2L655.0 326.9L655.5 325.6L656.0 320.9L656.5 323.7L657.0 320.7L657.5 326.3L658.0 323.9L658.5 327.5L659.0 325.6L659.5 327.5L660.0 323.0L660.5 329.0L661.0 328.2L661.5 333.7L662.0 335.6L662.5 345.7L663.0 344.0L663.5 354.3L664.0 356.1L664.5 364.7L665.0 365.4L665.5 375.3L666.0 374.7L666.5 383.5L667.0 383.1L667.5 394.2L668.0 396.8L668.5 401.5L669.0 402.6L669.5 411.4L670.0 409.3L670.5 412.4L671.0 410.2L671.5 415.7L672.0 413.8L672.5 420.9L673.0 419.9L673.5 422.4L674.0 419.0L674.5 423.5L675.0 420.3L675.5 423.6L676.0 420.0L676.5 424.1L677.0 420.2L677.5 425.8L678.0 422.6L678.5 427.3L679.0 423.3L679.5 428.8L680.0 421.1L680.5 424.2L681.0 419.5L681.5 419.7L682.0 414.8L682.5 420.8L683.0 417.1L683.5 423.5L684.0 421.1L684.5 427.7L685.0 420.5L685.5 425.8L686.0 422.8L686.5 427.2L687.0 424.0L687.5 430.2L688.0 426.7L688.5 433.0L689.0 428.9L689.5 437.4L690.0 436.0L690.5 440.1L691.0 441.1L691.5 445.5L692.0 442.7L692.5 449.4L693.0 445.0L693.5 451.3L694.0 450.1L694.5 457.5L695.0 451.9L695.5 457.4L696.0 455.1L696.5 460.9L697.0 456.9L697.5 465.2L698.0 461.8L698.5 468.6L699.0 468.1L699.5 471.8L700.0 467.9L700.5 473.6L701.0 472.3L701.5 480.2L702.0 475.7L702.5 478.4L703.0 472.3L703.5 477.2L704.0 475.6L704.5 479.4L705.0 477.6L705.5 485.0L706.0 481.2L706.5 483.9L707.0 479.9L707.5 485.2L708.0 481.3L708.5 485.0L709.0 479.9L709.5 486.3L710.0 480.1L710.5 482.8L711.0 477.7L711.5 480.2L712.0 478.5L712.5 480.3L713.0 476.2L713.5 478.9L714.0 473.6L714.5 475.7L715.0 469.2L715.5 469.7L716.0 466.6L716.5 466.4L717.0 454.5L717.5 449.3L718.0 439.0L718.5 438.0L719.0 429.8L719.5 428.7L720.0 420.7L720.5 419.5L721.0 411.9L721.5 407.0L722.0 398.3L722.5 402.1L723.0 394.4L723.5 395.9L724.0 389.9L724.5 391.0L725.0 383.0L725.5 385.1L726.0 378.1L726.5 384.1L727.0 377.6L727.5 382.1L728.0 378.5L728.5 377.1L729.0 372.7L729.5 372.0L730.0 370.2L730.5 372.1L731.0 365.9L731.5 369.1L732.0 361.0L732.5 364.9L733.0 358.6L733.5 359.7L734.0 354.8L734.5 355.8L735.0 349.9L735.5 352.5L736.0 346.8L736.5 349.3L737.0 341.9L737.5 349.0L738.0 346.0L738.5 350.1L739.0 346.9L739.5 349.5L740.0 340.6L740.5 344.2L741.0 342.5L741.5 343.7L742.0 340.6L742.5 344.2L743.0 336.4L743.5 341.8L744.0 337.7L744.5 341.1L745.0 335.6L745.5 340.7L746.0 333.9L746.5 336.6L747.0 334.0L747.5 336.3L748.0 329.5L748.5 339.2L749.0 339.1L749.5 345.8L750.0 345.2L750.5 352.8L751.0 355.3L751.5 363.0L752.0 367.6L752.5 376.7L753.0 380.2L753.5 384.9L754.0 385.6L754.5 391.2L755.0 391.3L755.5 397.8L756.0 398.2L756.5 403.1L757.0 402.5L757.5 408.4L758.0 405.3L758.5 413.7L759.0 409.1L759.5 415.1L760.0 414.6L760.5 418.4L761.0 414.9L761.5 421.4L762.0 416.0L762.5 420.9L763.0 418.1L763.5 423.1L764.0 418.2L764.5 421.8L765.0 420.1L765.5 423.2L766.0 423.8L766.5 427.6L767.0 421.8L767.5 423.4L768.0 417.6L768.5 420.7L769.0 416.5L769.5 417.9L770.0 415.7L770.5 421.7L771.0 418.8L771.5 422.1L772.0 419.7L772.5 423.6L773.0 419.8L773.5 425.3L774.0 423.0L774.5 428.9L775.0 426.6L775.5 433.2L776.0 430.8L776.5 434.8L777.0 433.5L777.5 438.2L778.0 438.9L778.5 443.7L779.0 440.3L779.5 448.8L780.0 443.0L780.5 448.8L781.0 449.6L781.5 456.4L782.0 454.1L782.5 458.0L783.0 454.1L783.5 460.0L784.0 457.5L784.5 462.9L785.0 461.1L785.5 465.8L786.0 467.0L786.5 471.8L787.0 467.7L787.5 471.0L788.0 469.5L788.5 476.3L789.0 473.2L789.5 476.4L790.0 472.9L790.5 473.3L791.0 469.8L791.5 476.1L792.0 473.9L792.5 477.1L793.0 477.4L793.5 480.9L794.0 476.7L794.5 479.0L795.0 475.9L795.5 478.8L796.0 474.0L796.5 479.7L797.0 473.9L797.5 475.8L798.0 473.0L798.5 474.6L799.0 469.4L799.5 473.5L800.0 470.2L800.5 472.2L801.0 465.5L801.5 467.4L802.0 458.4L802.5 456.2L803.0 447.4L803.5 444.7L804.0 433.7L804.5 433.3L805.0 422.9L805.5 419.1L806.0 410.1L806.5 410.4L807.0 404.2L807.5 403.0L808.0 395.7L808.5 393.9L809.0 387.2L809.5 385.8L810.0 377.2L810.5 375.5L811.0 369.1L811.5 372.3L812.0 362.7L812.5 363.6L813.0 358.0L813.5 361.2L814.0 356.5L814.5 359.7L815.0 355.4L815.5 360.9L816.0 353.6L816.5 353.8L817.0 344.5L817.5 344.0L818.0 341.2L818.5 344.5L819.0 338.7L819.5 338.6L820.0 334.3L820.5 333.3L821.0 327.3L821.5 329.6L822.0 328.1L822.5 330.1L823.0 324.6L823.5 324.3L824.0 320.5L824.5 324.5L825.0 320.2L825.5 326.7L826.0 324.8L826.5 329.3L827.0 323.5L827.5 324.4L828.0 321.8L828.5 323.4L829.0 320.2L829.5 325.0L830.0 324.2L830.5 326.8L831.0 322.5L831.5 323.8L832.0 317.4L832.5 320.8L833.0 318.9L833.5 324.4L834.0 320.6L834.5 323.9L835.0 318.2L835.5 324.8L836.0 323.7L836.5 332.3L837.0 332.0L837.5 339.7L838.0 338.8L838.5 349.6L839.0 350.2L839.5 358.2L840.0 361.6L840.5 370.2L841.0 369.7L841.5 379.9L842.0 376.2L842.5 385.8L843.0 383.5L843.5 391.3L844.0 392.8L844.5 401.3L845.0 396.5L845.5 403.1L846.0 402.0L846.5 408.5L847.0 407.5L847.5 414.0L848.0 413.2L848.5 416.4L849.0 413.3L849.5 415.9L850.0 415.6L850.5 421.1L851.0 416.0L851.5 423.0L852.0 416.6L852.5 420.9L853.0 413.4L853.5 421.7L854.0 420.4L854.5 425.9L855.0 424.8L855.5 426.0L856.0 419.1L856.5 419.0L857.0 412.0L857.5 418.4L858.0 416.0L858.5 420.2L859.0 417.4L859.5 423.4L860.0 419.1L860.5 422.2L861.0 419.5L861.5 424.0L862.0 422.6L862.5 429.5L863.0 425.8L863.5 430.3L864.0 428.8L864.5 434.5L865.0 434.1L865.5 438.2L866.0 439.4L866.5 443.2L867.0 441.7L867.5 445.9L868.0 445.4L868.5 449.5L869.0 449.9L869.5 458.0L870.0 454.9L870.5 459.9L871.0 455.5L871.5 459.4L872.0 457.6L872.5 465.0L873.0 464.0L873.5 471.0L874.0 469.0L874.5 474.1L875.0 474.0L875.5 478.8L876.0 477.0L876.5 482.0L877.0 479.4L877.5 482.3L878.0 479.5L878.5 483.0L879.0 478.1L879.5 482.0L880.0 479.7L880.5 484.4L881.0 480.5L881.5 484.9L882.0 479.3L882.5 481.7L883.0 480.0L883.5 483.2L884.0 477.8L884.5 478.9L885.0 475.2L885.5 475.2L886.0 467.6L886.5 468.4L887.0 464.4L887.5 466.0L888.0 456.3L888.5 455.9L889.0 447.8L889.5 443.4L890.0 432.7L890.5 431.6L891.0 420.2L891.5 420.3L892.0 408.0L892.5 403.5L893.0 388.4L893.5 385.8L894.0 374.2L894.5 372.7L895.0 360.6L895.5 361.9L896.0 352.3L896.5 350.4L897.0 342.0L897.5 341.4L898.0 333.2L898.5 334.5L899.0 326.7L899.5 330.7L900.0 324.6L900.5 327.1L901.0 319.8L901.5 325.0L902.0 321.1L902.5 324.0L903.0 319.3L903.5 322.2L904.0 316.5L904.5 318.1L905.0 314.0L905.5 317.8L906.0 314.9L906.5 319.4L907.0 313.8L907.5 319.2L908.0 316.0L908.5 316.3L909.0 312.4L909.5 312.7L910.0 307.5L910.5 312.6L911.0 310.0L911.5 315.0L912.0 312.7L912.5 320.3L913.0 317.4L913.5 325.5L914.0 321.7L914.5 324.5L915.0 319.6L915.5 323.6L916.0 324.1L916.5 328.1L917.0 325.2L917.5 330.2L918.0 322.9L918.5 326.7L919.0 321.0L919.5 328.4L920.0 326.6L920.5 333.4L921.0 329.1L921.5 331.3L922.0 326.5L922.5 329.3L923.0 325.6L923.5 333.6L924.0 331.0L924.5 335.3L925.0 337.5L925.5 344.3L926.0 344.9L926.5 354.8L927.0 355.5L927.5 368.9L928.0 368.3L928.5 376.1L929.0 375.5L929.5 385.0L930.0 383.8L930.5 391.8L931.0 391.2L931.5 398.9L932.0 400.2L932.5 407.8L933.0 402.8L933.5 409.8L934.0 409.8L934.5 416.5L935.0 412.9L935.5 420.5L936.0 414.9L936.5 422.8L937.0 418.9L937.5 423.0L938.0 423.4L938.5 428.1L939.0 425.3L939.5 428.5L940.0 426.8L940.5 429.6L941.0 424.9L941.5 429.4L942.0 426.5L942.5 435.8L943.0 435.6L943.5 437.2L944.0 429.6L944.5 431.2L945.0 425.3L945.5 429.9L946.0 430.1L946.5 435.7L947.0 430.8L947.5 435.9L948.0 432.9L948.5 436.7L949.0 434.0L949.5 438.5L950.0 435.7L950.5 440.3L951.0 435.7L951.5 442.7L952.0 440.5L952.5 445.1L953.0 446.1L953.5 451.9L954.0 450.0L954.5 452.0L955.0 451.7L955.5 455.9L956.0 452.8L956.5 460.3L957.0 456.3L957.5 460.7L958.0 460.2L958.5 464.1L959.0 460.9L959.5 466.5L960.0 464.6L960.5 469.4L961.0 469.7L961.5 472.8L962.0 469.5L962.5 475.3L963.0 472.5L963.5 477.1L964.0 475.3L964.5 478.1L965.0 474.7L965.5 479.9L966.0 473.9L966.5 479.5L967.0 476.4L967.5 481.2L968.0 481.4L968.5 486.3L969.0 480.0L969.5 484.6L970.0 479.1L970.5 485.3L971.0 481.3L971.5 485.1L972.0 478.9L972.5 483.3L973.0 476.3L973.5 479.2L974.0 475.6L974.5 479.6L975.0 475.8L975.5 476.3L976.0 469.4L976.5 471.6L977.0 463.8L977.5 464.0L978.0 459.0L978.5 458.5L979.0 451.3L979.5 448.1L980.0 435.1L980.5 431.0L981.0 421.9L981.5 419.0L982.0 408.2L982.5 403.5L983.0 393.1L983.5 389.3L984.0 380.4L984.5 379.9L985.0 373.0L985.5 372.5L986.0 368.1L986.5 367.6L987.0 362.9L987.5 363.6L988.0 357.5L988.5 358.0L989.0 353.6L989.5 356.2L990.0 353.7L990.5 356.5L991.0 350.8L991.5 351.1L992.0 344.6L992.5 349.8L993.0 345.0L993.5 346.0L994.0 340.1L994.5 342.0L995.0 334.3L995.5 336.4L996.0 330.3L996.5 334.8L997.0 331.3L997.5 333.0L998.0 328.8L998.5 330.8L999.0 325.8L999.5 331.0L1000.0 328.1L1000.5 334.9L1001.0 335.1L1001.5 339.8L1002.0 336.5L1002.5 340.6L1003.0 337.1L1003.5 339.5L1004.0 335.6L1004.5 338.9L1005.0 334.3L1005.5 338.9L1006.0 334.7L1006.5 339.6L1007.0 336.0L1007.5 338.4L1008.0 335.8L1008.5 336.2L1009.0 331.1L1009.5 334.6L1010.0 329.9L1010.5 332.7L1011.0 331.7L1011.5 338.4L1012.0 337.8L1012.5 344.7L1013.0 346.2L1013.5 351.1L1014.0 352.7L1014.5 359.2L1015.0 361.0L1015.5 369.9L1016.0 371.5L1016.5 380.4L1017.0 377.8L1017.5 388.0L1018.0 386.3L1018.5 394.8L1019.0 396.9L1019.5 401.8L1020.0 401.7L1020.5 407.8L1021.0 405.1L1021.5 410.1L1022.0 408.5L1022.5 416.3L1023.0 414.7L1023.5 420.5L1024.0 416.5L1024.5 420.7L1025.0 418.4L1025.5 421.4L1026.0 419.2L1026.5 426.8L1027.0 422.2L1027.5 425.5L1028.0 424.7L1028.5 426.0L1029.0 425.3L1029.5 428.9L1030.0 428.8L1030.5 432.8L1031.0 430.7L1031.5 431.8L1032.0 426.2L1032.5 428.6L1033.0 424.6L1033.5 431.1L1034.0 428.3L1034.5 431.4L1035.0 426.9L1035.5 430.9L1036.0 429.8L1036.5 433.8L1037.0 428.3L1037.5 432.5L1038.0 430.5L1038.5 434.8L1039.0 430.1L1039.5 434.1L1040.0 434.6L1040.5 438.3L1041.0 436.7L1041.5 441.9L1042.0 438.2L1042.5 444.6L1043.0 441.9L1043.5 446.3L1044.0 444.1L1044.5 450.7L1045.0 446.5L1045.5 451.7L1046.0 449.8L1046.5 453.9L1047.0 449.3L1047.5 455.7L1048.0 451.8L1048.5 459.1L1049.0 454.4L1049.5 460.5L1050.0 456.8L1050.5 460.0L1051.0 458.7L1051.5 465.0L1052.0 463.0L1052.5 469.5L1053.0 465.8L1053.5 469.5L1054.0 466.8L1054.5 471.0L1055.0 467.0L1055.5 473.5L1056.0 472.0L1056.5 478.8L1057.0 473.5L1057.5 478.5L1058.0 476.4L1058.5 479.7L1059.0 479.8L1059.5 484.5L1060.0 482.9L1060.5 485.6L1061.0 484.0L1061.5 488.3L1062.0 484.7L1062.5 490.2L1063.0 489.3L1063.5 492.8L1064.0 489.0L1064.5 494.1L1065.0 487.7L1065.5 489.7L1066.0 484.9L1066.5 486.5L1067.0 478.8L1067.5 476.8L1068.0 467.9L1068.5 469.0L1069.0 460.6L1069.5 461.6L1070.0 456.0L1070.5 458.0L1071.0 450.4L1071.5 451.7L1072.0 443.0L1072.5 444.7L1073.0 441.6L1073.5 443.2L1074.0 439.4L1074.5 438.7L1075.0 437.4L1075.5 439.8L1076.0 437.1L1076.5 441.7L1077.0 438.8L1077.5 439.9L1078.0 435.3L1078.5 438.6L1079.0 436.2L1079.5 437.6L1080.0 437.8L1080.5 441.0L1081.0 433.8L1081.5 435.9L1082.0 431.4L1082.5 436.6L1083.0 429.9L1083.5 432.3L1084.0 429.4L1084.5 432.1L1085.0 428.2L1085.5 429.1L1086.0 427.2L1086.5 431.4L1087.0 426.6L1087.5 430.5L1088.0 424.0L1088.5 429.1L1089.0 425.2L1089.5 427.3L1090.0 425.5L1090.5 426.8L1091.0 422.6L1091.5 428.2L1092.0 423.3L1092.5 424.3L1093.0 419.3L1093.5 422.8L1094.0 414.4L1094.5 417.4L1095.0 413.0L1095.5 418.4L1096.0 411.4L1096.5 413.3L1097.0 407.8L1097.5 408.5L1098.0 401.5L1098.5 404.8L1099.0 402.1L1099.5 406.2L1100.0 403.3L1100.5 408.5L1101.0 408.1L1101.5 412.3L1102.0 410.2L1102.5 418.6L1103.0 415.7L1103.5 424.3L1104.0 419.3L1104.5 426.5L1105.0 424.6L1105.5 430.0L1106.0 431.2L1106.5 438.0L1107.0 437.1L1107.5 440.4L1108.0 436.8L1108.5 439.3L1109.0 433.9L1109.5 438.0L1110.0 437.4L1110.5 439.3L1111.0 435.8L1111.5 437.9L1112.0 433.5L1112.5 435.9L1113.0 430.0L1113.5 437.0L1114.0 433.0L1114.5 435.8L1115.0 430.1L1115.5 432.3L1116.0 426.8L1116.5 428.7L1117.0 424.9L1117.5 428.5L1118.0 421.6L1118.5 426.6L1119.0 420.5L1119.5 420.9L1120.0 416.9L1120.5 422.0L1121.0 419.7L1121.5 422.9L1122.0 421.8L1122.5 423.4L1123.0 420.2L1123.5 426.1L1124.0 419.7L1124.5 426.8L1125.0 420.2L1125.5 426.9L1126.0 421.9L1126.5 428.0L1127.0 425.8L1127.5 430.7L1128.0 427.8L1128.5 433.3L1129.0 431.3L1129.5 437.7L1130.0 433.6L1130.5 439.5L1131.0 438.1L1131.5 443.2L1132.0 440.8L1132.5 446.1L1133.0 446.0L1133.5 449.0L1134.0 444.2L1134.5 446.7L1135.0 444.6L1135.5 450.7L1136.0 448.7L1136.5 453.7L1137.0 450.5L1137.5 456.1L1138.0 454.2L1138.5 458.9L1139.0 459.8L1139.5 465.3L1140.0 460.6L1140.5 463.4L1141.0 460.3L1141.5 465.7L1142.0 465.9L1142.5 470.8L1143.0 469.7L1143.5 474.2L1144.0 470.9L1144.5 474.5L1145.0 472.1L1145.5 476.3L1146.0 475.8L1146.5 482.3L1147.0 481.4L1147.5 484.7L1148.0 483.3L1148.5 486.0L1149.0 482.0L1149.5 489.1L1150.0 486.4L1150.5 494.0L1151.0 491.9L1151.5 496.9L1152.0 490.3L1152.5 492.8L1153.0 489.2L1153.5 494.3L1154.0 490.5L1154.5 491.0L1155.0 480.8L1155.5 481.5L1156.0 473.7L1156.5 473.8L1157.0 467.9L1157.5 467.0L1158.0 461.7L1158.5 460.0L1159.0 454.4L1159.5 455.5L1160.0 451.7L1160.5 454.7L1161.0 449.3L1161.5 453.0L1162.0 445.3L1162.5 448.4L1163.0 444.0L1163.5 451.2L1164.0 446.7L1164.5 453.5L1165.0 449.1L1165.5 452.0L1166.0 445.7L1166.5 449.3L1167.0 442.4L1167.5 445.5L1168.0 443.4L1168.5 447.2L1169.0 440.0L1169.5 444.6L1170.0 439.4L1170.5 439.6L1171.0 434.9L1171.5 436.4L1172.0 430.6L1172.5 433.5L1173.0 428.0L1173.5 432.0L1174.0 427.6L1174.5 430.8L1175.0 430.0L1175.5 437.1L1176.0 431.2L1176.5 432.8L1177.0 430.0L1177.5 428.8L1178.0 424.1L1178.5 427.6L1179.0 424.7L1179.5 428.2L1180.0 423.2L1180.5 425.4L1181.0 421.0L1181.5 422.7L1182.0 415.6L1182.5 419.2L1183.0 412.5L1183.5 417.3L1184.0 411.1L1184.5 409.8L1185.0 404.7L1185.5 406.5L1186.0 401.1L1186.5 407.5L1187.0 405.2L1187.5 408.0L1188.0 405.1L1188.5 411.8L1189.0 409.4L1189.5 415.3L1190.0 415.7L1190.5 422.8L1191.0 420.8L1191.5 427.7L1192.0 423.7L1192.5 427.5L1193.0 427.4L1193.5 432.1L1194.0 429.2L1194.5 435.8L1195.0 433.4L1195.5 434.4L1196.0 430.7L1196.5 433.2L1197.0 429.0L1197.5 432.7L1198.0 429.2L1198.5 429.6L1199.0 425.4L1199.5 427.2L1200.0 424.4L1200.5 425.9L1201.0 420.3L1201.5 423.8L1202.0 421.6L1202.5 423.1L1203.0 417.7L1203.5 419.6L1204.0 416.6L1204.5 420.4L1205.0 417.2L1205.5 420.3L1206.0 412.8L1206.5 417.8L1207.0 412.2L1207.5 413.7L1208.0 408.4L1208.5 414.4L1209.0 409.3L1209.5 415.1L1210.0 410.1L1210.5 413.8L1211.0 412.0L1211.5 417.7L1212.0 413.4L1212.5 421.7L1213.0 416.5L1213.5 420.6L1214.0 416.6L1214.5 423.9L1215.0 421.5L1215.5 428.7L1216.0 428.1L1216.5 434.4L1217.0 432.6L1217.5 436.5L1218.0 437.0L1218.5 442.6L1219.0 441.1L1219.5 449.4L1220.0 448.3L1220.5 452.4L1221.0 451.4L1221.5 454.4L1222.0 453.4L1222.5 456.0L1223.0 454.6L1223.5 462.4L1224.0 460.9L1224.5 466.3L1225.0 463.6L1225.5 466.4L1226.0 466.6L1226.5 470.1L1227.0 468.6L1227.5 473.1L1228.0 468.0L1228.5 473.1L1229.0 468.7L1229.5 474.7L1230.0 470.9L1230.5 475.1L1231.0 474.4L1231.5 477.4L1232.0 471.0L1232.5 475.4L1233.0 470.6L1233.5 475.4L1234.0 471.0L1234.5 474.5L1235.0 471.4L1235.5 475.3L1236.0 469.4L1236.5 470.4L1237.0 468.5L1237.5 469.4L1238.0 467.3L1238.5 469.3L1239.0 463.3L1239.5 463.2L1240.0 456.5L1240.5 454.3L1241.0 443.9L1241.5 444.7L1242.0 436.0L1242.5 433.9L1243.0 421.3L1243.5 421.6L1244.0 414.1L1244.5 413.6L1245.0 403.5L1245.5 404.4L1246.0 398.2L1246.5 395.0L1247.0 387.4L1247.5 388.8L1248.0 379.7L1248.5 382.6L1249.0 375.0L1249.5 375.4L1250.0 368.7L1250.5 371.3L1251.0 364.9L1251.5 368.4L1252.0 364.3L1252.5 365.9L1253.0 363.1L1253.5 362.1L1254.0 356.0L1254.5 356.7L1255.0 351.1L1255.5 353.9L1256.0 349.2L1256.5 350.3L1257.0 346.0L1257.5 347.1L1258.0 338.9L1258.5 342.7L1259.0 336.7L1259.5 337.8L1260.0 330.7L1260.5 332.2L1261.0 328.2L1261.5 327.2L1262.0 324.0L1262.5 327.8L1263.0 326.3L1263.5 331.6L1264.0 328.0L1264.5 330.0L1265.0 323.5L1265.5 326.2L1266.0 320.4L1266.5 326.3L1267.0 323.7L1267.5 328.5L1268.0 324.5L1268.5 326.4L1269.0 319.1L1269.5 323.8L1270.0 319.9L1270.5 325.6L1271.0 320.2L1271.5 326.0L1272.0 322.4L1272.5 324.5L1273.0 318.4L1273.5 322.6L1274.0 325.0L1274.5 330.3L1275.0 329.9L1275.5 340.2L1276.0 340.5L1276.5 350.2L1277.0 350.8L1277.5 360.4L1278.0 362.8L1278.5 368.8L1279.0 372.3L1279.5 377.6L1280.0 378.9L1280.5 386.6L1281.0 387.9L1281.5 396.6L1282.0 395.1L1282.5 400.2L1283.0 401.0L1283.5 407.0L1284.0 402.8L1284.5 409.7L1285.0 411.6L1285.5 417.6L1286.0 414.6L1286.5 419.7L1287.0 414.4L1287.5 419.1L1288.0 415.9L1288.5 421.4L1289.0 417.6L1289.5 420.9L1290.0 415.3L1290.5 418.0L1291.0 413.8L1291.5 418.9L1292.0 418.5L1292.5 425.1L1293.0 420.6L1293.5 422.0L1294.0 416.7L1294.5 418.0L1295.0 412.2L1295.5 420.3L1296.0 415.9L1296.5 420.4L1297.0 418.8L1297.5 421.0L1298.0 418.1L1298.5 421.3L1299.0 420.4L1299.5 425.7L1300.0 421.8L1300.5 426.7L1301.0 422.8L1301.5 428.1L1302.0 426.0L1302.5 431.0L1303.0 429.9L1303.5 439.3L1304.0 437.4L1304.5 442.8L1305.0 437.9L1305.5 443.4L1306.0 442.7L1306.5 448.5L1307.0 446.0L1307.5 452.4L1308.0 450.7L1308.5 456.2L1309.0 452.8L1309.5 458.0L1310.0 454.8L1310.5 461.9L1311.0 460.5L1311.5 467.4L1312.0 463.9L1312.5 470.8L1313.0 467.9L1313.5 473.7L1314.0 468.6L1314.5 475.2L1315.0 474.8L1315.5 476.1L1316.0 471.4L1316.5 475.0L1317.0 471.8L1317.5 477.1L1318.0 475.2L1318.5 479.6L1319.0 478.7L1319.5 481.9L1320.0 478.7L1320.5 481.0L1321.0 477.4L1321.5 483.7L1322.0 477.7L1322.5 483.9L1323.0 478.6L1323.5 478.4L1324.0 473.3L1324.5 478.6L1325.0 475.6L1325.5 477.7L1326.0 473.9L1326.5 475.1L1327.0 470.4L1327.5 468.6L1328.0 462.6L1328.5 466.2L1329.0 456.2L1329.5 454.2L1330.0 445.0L1330.5 440.5L1331.0 431.6L1331.5 428.2L1332.0 419.5L1332.5 419.1L1333.0 411.4L1333.5 411.3L1334.0 404.1L1334.5 402.0L1335.0 395.0L1335.5 397.4L1336.0 390.0L1336.5 389.5L1337.0 381.6L1337.5 385.7L1338.0 378.2L1338.5 380.9L1339.0 378.4L1339.5 379.9L1340.0 377.8L1340.5 377.6L1341.0 373.6L1341.5 374.5L1342.0 368.2L1342.5 369.9L1343.0 367.0L1343.5 368.5L1344.0 361.7L1344.5 363.9L1345.0 356.8L1345.5 358.6L1346.0 350.0L1346.5 355.3L1347.0 348.2L1347.5 351.3L1348.0 346.4L1348.5 346.9L1349.0 340.1L1349.5 344.1L1350.0 340.6L1350.5 344.8L1351.0 344.5L1351.5 350.3L1352.0 345.8L1352.5 346.1L1353.0 338.3L1353.5 341.5L1354.0 338.4L1354.5 342.8L1355.0 340.3L1355.5 341.6L1356.0 338.2L1356.5 340.2L1357.0 332.9L1357.5 338.9L1358.0 335.2L1358.5 338.1L1359.0 333.2L1359.5 335.5L1360.0 329.3L1360.5 331.6L1361.0 329.2L1361.5 335.9L1362.0 335.7L1362.5 345.2L1363.0 344.1L1363.5 352.2L1364.0 350.3L1364.5 360.2L1365.0 362.5L1365.5 373.5L1366.0 374.5L1366.5 382.7L1367.0 381.9L1367.5 389.3L1368.0 389.2L1368.5 398.3L1369.0 398.8L1369.5 406.6L1370.0 404.3L1370.5 407.9L1371.0 405.0L1371.5 409.5L1372.0 406.6L1372.5 413.7L1373.0 410.9L1373.5 416.7L1374.0 412.8L1374.5 415.4L1375.0 413.9L1375.5 419.0L1376.0 414.9L1376.5 420.5L1377.0 417.3L1377.5 422.0L1378.0 416.3L1378.5 416.8L1379.0 412.3L1379.5 420.3L1380.0 419.4L1380.5 427.8L1381.0 418.6L1381.5 421.9L1382.0 415.1L1382.5 415.9L1383.0 412.5L1383.5 420.2L1384.0 417.8L1384.5 420.0L1385.0 418.5L1385.5 420.2L1386.0 418.8L1386.5 424.3L1387.0 420.8L1387.5 426.0L1388.0 425.0L1388.5 428.1L1389.0 423.6L1389.5 430.9L1390.0 428.5L1390.5 435.0L1391.0 433.0L1391.5 441.4L1392.0 439.3L1392.5 443.7L1393.0 440.8L1393.5 446.1L1394.0 445.0L1394.5 449.8L1395.0 448.9L1395.5 453.0L1396.0 451.7L1396.5 453.3L1397.0 451.2L1397.5 455.9L1398.0 457.6L1398.5 464.0L1399.0 462.3L1399.5 465.4L1400.0 463.5L1400.5 468.4L1401.0 466.2L1401.5 470.2L1402.0 465.6L1402.5 470.3L1403.0 467.6L1403.5 472.5L1404.0 467.6L1404.5 472.5L1405.0 472.1L1405.5 475.6L1406.0 473.4L1406.5 477.9L1407.0 472.8L1407.5 474.4L1408.0 469.5L1408.5 475.0L1409.0 470.7L1409.5 473.7L1410.0 469.3L1410.5 473.7L1411.0 467.5L1411.5 470.5L1412.0 463.4L1412.5 466.9L1413.0 461.8L1413.5 464.1L1414.0 460.0L1414.5 457.4L1415.0 447.4L1415.5 446.0L1416.0 437.6L1416.5 438.6L1417.0 427.4L1417.5 424.9L1418.0 416.7L1418.5 415.7L1419.0 407.5L1419.5 408.6L1420.0 400.3L1420.5 400.1L1421.0 390.4L1421.5 390.5L1422.0 380.9L1422.5 379.2L1423.0 369.1L1423.5 370.2L1424.0 363.7L1424.5 366.3L1425.0 361.9L1425.5 362.1L1426.0 355.5L1426.5 359.2L1427.0 352.7L1427.5 355.6L1428.0 352.9L1428.5 352.5L1429.0 346.7L1429.5 347.8L1430.0 344.8L1430.5 346.9L1431.0 340.8L1431.5 342.0L1432.0 337.0L1432.5 339.6L1433.0 332.4L1433.5 332.3L1434.0 327.5L1434.5 330.5L1435.0 325.3L1435.5 329.4L1436.0 320.3L1436.5 324.0L1437.0 320.5L1437.5 323.7L1438.0 322.0L1438.5 326.0L1439.0 321.1L1439.5 324.2L1440.0 319.8L1440.5 320.4L1441.0 318.4L1441.5 323.7L1442.0 319.5L1442.5 323.9L1443.0 319.2L1443.5 319.8L1444.0 316.7L1444.5 321.3L1445.0 315.9L1445.5 323.2L1446.0 319.8L1446.5 321.1L1447.0 318.4L1447.5 319.3L1448.0 316.0L1448.5 321.6L1449.0 320.7L1449.5 331.6L1450.0 334.0L1450.5 343.5L1451.0 343.7L1451.5 352.5L1452.0 352.0L1452.5 360.6L1453.0 365.4L1453.5 374.9L1454.0 376.5L1454.5 383.3L1455.0 382.8L1455.5 388.9L1456.0 389.1L1456.5 397.3L1457.0 397.0L1457.5 405.7L1458.0 402.8L1458.5 407.5L1459.0 403.4L1459.5 410.4L1460.0 407.5L1460.5 413.1L1461.0 412.4L1461.5 417.2L1462.0 414.3L1462.5 417.8L1463.0 414.6L1463.5 418.5L1464.0 415.5L1464.5 419.4L1465.0 412.8L1465.5 416.5L1466.0 413.1L1466.5 419.7L1467.0 417.3L1467.5 422.1L1468.0 418.5L1468.5 420.5L1469.0 414.0L1469.5 416.2L1470.0 411.3L1470.5 412.9L1471.0 412.2L1471.5 417.3L1472.0 411.8L1472.5 417.2L1473.0 413.2L1473.5 417.1L1474.0 413.6L1474.5 421.0L1475.0 419.6L1475.5 422.5L1476.0 420.5L1476.5 424.2L1477.0 421.9L1477.5 428.3L1478.0 428.8L1478.5 432.8" stroke="#ff0000" stroke-width="2.85"/>
</g>
<path d="M77.00 529.5v6.8M252.20 529.5v6.8M427.30 529.5v6.8M602.40 529.5v6.8M777.50 529.5v6.8M952.60 529.5v6.8M1127.70 529.5v6.8M1302.80 529.5v6.8M1478.50 529.5v6.8M77.0 509.20h-6.8M77.0 450.93h-6.8M77.0 392.65h-6.8M77.0 334.38h-6.8M77.0 276.10h-6.8M77.0 217.82h-6.8M77.0 159.55h-6.8M77.0 101.27h-6.8M77.0 43.00h-6.8" stroke="#000" stroke-width="1.4" fill="none"/>
<rect x="77.0" y="31.6" width="1401.50" height="497.90" fill="none" stroke="#000" stroke-width="1.4"/>
<g font-size="17.8px" fill="#000">
<text x="76.85" y="556.6" text-anchor="middle">1995-08-15</text>
<text x="251.95" y="556.6" text-anchor="middle">1995-08-17</text>
<text x="427.05" y="556.6" text-anchor="middle">1995-08-19</text>
<text x="602.15" y="556.6" text-anchor="middle">1995-08-21</text>
<text x="777.25" y="556.6" text-anchor="middle">1995-08-23</text>
<text x="952.35" y="556.6" text-anchor="middle">1995-08-25</text>
<text x="1127.45" y="556.6" text-anchor="middle">1995-08-27</text>
<text x="1302.55" y="556.6" text-anchor="middle">1995-08-29</text>
<text x="1477.65" y="556.6" text-anchor="middle">1995-08-31</text>
<text x="64.5" y="515.80" text-anchor="end">0</text>
<text x="64.5" y="457.53" text-anchor="end">25</text>
<text x="64.5" y="399.25" text-anchor="end">50</text>
<text x="64.5" y="340.98" text-anchor="end">75</text>
<text x="64.5" y="282.70" text-anchor="end">100</text>
<text x="64.5" y="224.42" text-anchor="end">125</text>
<text x="64.5" y="166.15" text-anchor="end">150</text>
<text x="64.5" y="107.87" text-anchor="end">175</text>
<text x="64.5" y="49.60" text-anchor="end">200</text>
<text x="777.75" y="582.0" text-anchor="middle">Time</text>
<text transform="translate(19.0,282.05) rotate(-90)" text-anchor="middle">Workload</text>
</g>
<text x="777.45" y="20.9" text-anchor="middle" font-size="21.55px" fill="#000">NASA Facebook Prophet Predictions</text>
<rect x="86.0" y="40.5" width="153.0" height="59.0" rx="3.5" ry="3.5" fill="#ffffff" fill-opacity="0.8" stroke="#cccccc" stroke-width="1.4"/>
<path d="M92.0 55.6H130.0" stroke="#1f77b4" stroke-width="2.65"/>
<path d="M92.0 83.0H130.0" stroke="#ff0000" stroke-width="2.65"/>
<g font-size="17.8px" fill="#000"><text x="143.6" y="62.1">Actual</text><text x="143.6" y="89.5">Prediction</text></g>
</svg>
</body></html>
